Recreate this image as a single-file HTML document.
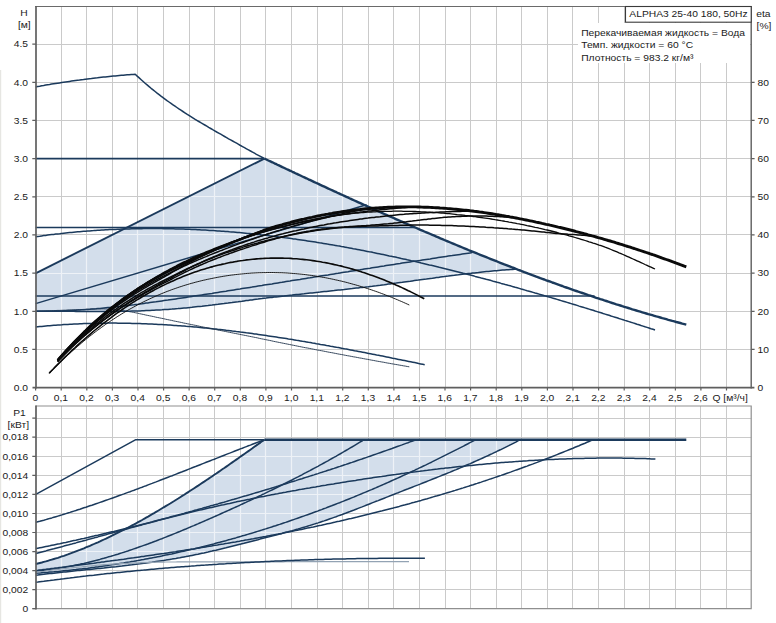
<!DOCTYPE html>
<html lang="ru">
<head>
<meta charset="utf-8">
<title>ALPHA3 25-40 180, 50Hz</title>
<style>
html,body{margin:0;padding:0;background:#ffffff;}
body{width:776px;height:623px;overflow:hidden;font-family:"Liberation Sans",sans-serif;}
svg{display:block;}
</style>
</head>
<body>
<svg width="776" height="623" viewBox="0 0 776 623" font-family="'Liberation Sans', sans-serif" font-size="10.3" fill="#1a1a1a">
<rect width="776" height="623" fill="#ffffff"/>
<line x1="0.6" y1="70" x2="0.6" y2="623" stroke="#e6e6e2" stroke-width="1.2"/>
<defs><clipPath id="cs1"><path d="M35.6,311.3 L35.6,273.3 L264.4,158.6 L266.4,159.5 L268.4,160.5 L270.4,161.4 L272.4,162.3 L274.4,163.3 L276.4,164.2 L278.4,165.2 L280.4,166.1 L282.4,167.1 L284.4,168.0 L286.4,169.0 L288.4,169.9 L290.4,170.8 L292.4,171.8 L294.4,172.7 L296.4,173.7 L298.4,174.6 L300.4,175.5 L302.4,176.5 L304.4,177.4 L306.4,178.3 L308.4,179.3 L310.4,180.2 L312.4,181.1 L314.4,182.1 L316.4,183.0 L318.4,183.9 L320.4,184.9 L322.4,185.8 L324.4,186.7 L326.4,187.6 L328.4,188.6 L330.4,189.5 L332.4,190.4 L334.4,191.3 L336.4,192.2 L338.4,193.2 L340.4,194.1 L342.4,195.0 L344.4,195.9 L346.4,196.8 L348.4,197.7 L350.4,198.7 L352.4,199.6 L354.4,200.5 L356.4,201.4 L358.4,202.3 L360.4,203.2 L362.4,204.1 L364.4,205.0 L366.4,205.9 L368.4,206.8 L370.4,207.7 L372.4,208.6 L374.4,209.5 L376.4,210.4 L378.4,211.3 L380.4,212.2 L382.4,213.1 L384.4,214.0 L386.4,214.9 L388.4,215.8 L390.4,216.6 L392.4,217.5 L394.4,218.4 L396.4,219.3 L398.4,220.2 L400.4,221.0 L402.4,221.9 L404.4,222.8 L406.4,223.7 L408.4,224.5 L410.4,225.4 L412.4,226.3 L414.4,227.2 L416.4,228.0 L418.4,228.9 L420.4,229.8 L422.4,230.6 L424.4,231.5 L426.4,232.3 L428.4,233.2 L430.4,234.0 L432.4,234.9 L434.4,235.7 L436.4,236.6 L438.4,237.4 L440.4,238.3 L442.4,239.1 L444.4,240.0 L446.4,240.8 L448.4,241.7 L450.4,242.5 L452.4,243.3 L454.4,244.2 L456.4,245.0 L458.4,245.8 L460.4,246.7 L462.4,247.5 L464.4,248.3 L466.4,249.1 L468.4,250.0 L470.4,250.8 L472.4,251.6 L474.4,252.4 L476.3,253.2 L478.3,254.0 L480.3,254.8 L482.3,255.6 L484.3,256.4 L486.3,257.2 L488.3,258.0 L490.3,258.8 L492.3,259.6 L494.3,260.4 L496.3,261.2 L498.3,262.0 L500.3,262.8 L502.3,263.6 L504.3,264.4 L506.3,265.1 L508.3,265.9 L510.3,266.7 L512.3,267.5 L514.3,268.2 L516.3,269.0 L516.5,269.1 L516.5,269.1 L514.5,269.2 L512.5,269.4 L510.5,269.5 L508.5,269.7 L506.5,269.8 L504.5,270.0 L502.5,270.1 L500.5,270.3 L498.5,270.5 L496.5,270.7 L494.5,270.8 L492.5,271.0 L490.5,271.2 L488.5,271.4 L486.5,271.6 L484.5,271.8 L482.5,272.0 L480.4,272.2 L478.4,272.5 L476.4,272.7 L474.4,272.9 L472.4,273.1 L470.4,273.4 L468.4,273.6 L466.4,273.8 L464.4,274.1 L462.4,274.3 L460.4,274.5 L458.4,274.8 L456.4,275.0 L454.4,275.3 L452.4,275.5 L450.4,275.8 L448.4,276.1 L446.4,276.3 L444.4,276.6 L442.4,276.8 L440.4,277.1 L438.4,277.4 L436.4,277.6 L434.4,277.9 L432.4,278.2 L430.4,278.4 L428.4,278.7 L426.4,279.0 L424.4,279.2 L422.4,279.5 L420.4,279.8 L418.4,280.1 L416.4,280.3 L414.4,280.6 L412.3,280.9 L410.3,281.2 L408.3,281.4 L406.3,281.7 L404.3,282.0 L402.3,282.3 L400.3,282.5 L398.3,282.8 L396.3,283.1 L394.3,283.3 L392.3,283.6 L390.3,283.9 L388.3,284.1 L386.3,284.4 L384.3,284.7 L382.3,284.9 L380.3,285.2 L378.3,285.4 L376.3,285.7 L374.3,285.9 L372.3,286.2 L370.3,286.4 L368.3,286.7 L366.3,286.9 L364.3,287.2 L362.3,287.4 L360.3,287.6 L358.3,287.9 L356.3,288.1 L354.3,288.3 L352.3,288.6 L350.3,288.8 L348.3,289.0 L346.3,289.2 L344.2,289.5 L342.2,289.7 L340.2,289.9 L338.2,290.1 L336.2,290.3 L334.2,290.6 L332.2,290.8 L330.2,291.0 L328.2,291.2 L326.2,291.4 L324.2,291.6 L322.2,291.8 L320.2,292.1 L318.2,292.3 L316.2,292.5 L314.2,292.7 L312.2,292.9 L310.2,293.1 L308.2,293.3 L306.2,293.5 L304.2,293.8 L302.2,294.0 L300.2,294.2 L298.2,294.4 L296.2,294.6 L294.2,294.8 L292.2,295.1 L290.2,295.3 L288.2,295.5 L286.2,295.7 L284.2,296.0 L282.2,296.2 L280.2,296.4 L278.2,296.7 L276.1,296.9 L274.1,297.1 L272.1,297.4 L270.1,297.6 L268.1,297.8 L266.1,298.1 L264.1,298.3 L262.1,298.6 L260.1,298.8 L258.1,299.1 L256.1,299.3 L254.1,299.6 L252.1,299.9 L250.1,300.1 L248.1,300.4 L246.1,300.6 L244.1,300.9 L242.1,301.2 L240.1,301.4 L238.1,301.7 L236.1,301.9 L234.1,302.2 L232.1,302.5 L230.1,302.7 L228.1,303.0 L226.1,303.2 L224.1,303.5 L222.1,303.7 L220.1,304.0 L218.1,304.3 L216.1,304.5 L214.1,304.7 L212.1,305.0 L210.1,305.2 L208.1,305.5 L206.0,305.7 L204.0,305.9 L202.0,306.2 L200.0,306.4 L198.0,306.6 L196.0,306.8 L194.0,307.0 L192.0,307.3 L190.0,307.5 L188.0,307.7 L186.0,307.9 L184.0,308.0 L182.0,308.2 L180.0,308.4 L178.0,308.6 L176.0,308.7 L174.0,308.9 L172.0,309.1 L170.0,309.2 L168.0,309.4 L166.0,309.5 L164.0,309.6 L162.0,309.8 L160.0,309.9 L158.0,310.0 L156.0,310.1 L154.0,310.2 L152.0,310.3 L150.0,310.4 L148.0,310.5 L146.0,310.6 L144.0,310.7 L142.0,310.8 L140.0,310.9 L137.9,310.9 L135.9,311.0 L133.9,311.1 L131.9,311.1 L129.9,311.2 L127.9,311.2 L125.9,311.3 L123.9,311.3 L121.9,311.3 L119.9,311.4 L117.9,311.4 L115.9,311.4 L113.9,311.5 L111.9,311.5 L109.9,311.5 L107.9,311.5 L105.9,311.5 L103.9,311.5 L101.9,311.5 L99.9,311.5 L97.9,311.5 L95.9,311.5 L93.9,311.5 L91.9,311.5 L89.9,311.5 L87.9,311.5 L85.9,311.4 L83.9,311.4 L81.9,311.4 L79.9,311.4 L77.9,311.4 L75.9,311.4 L73.9,311.3 L71.9,311.3 L69.8,311.3 L67.8,311.3 L65.8,311.3 L63.8,311.3 L61.8,311.3 L59.8,311.2 L57.8,311.2 L55.8,311.2 L53.8,311.2 L51.8,311.2 L49.8,311.2 L47.8,311.2 L45.8,311.2 L43.8,311.2 L41.8,311.2 L39.8,311.3 L37.8,311.3 L35.8,311.3Z"/></clipPath><clipPath id="cs2"><path d="M35.8,575.2 L35.8,564.0 L37.8,563.5 L39.8,563.0 L41.8,562.5 L43.8,561.9 L45.8,561.4 L47.8,560.8 L49.8,560.2 L51.8,559.6 L53.8,559.0 L55.9,558.4 L57.9,557.8 L59.9,557.1 L61.9,556.4 L63.9,555.8 L65.9,555.1 L67.9,554.4 L69.9,553.6 L71.9,552.9 L73.9,552.2 L75.9,551.4 L77.9,550.6 L79.9,549.9 L81.9,549.1 L83.9,548.3 L85.9,547.4 L87.9,546.6 L89.9,545.8 L91.9,544.9 L94.0,544.0 L96.0,543.1 L98.0,542.3 L100.0,541.4 L102.0,540.4 L104.0,539.5 L106.0,538.6 L108.0,537.6 L110.0,536.7 L112.0,535.7 L114.0,534.7 L116.0,533.7 L118.0,532.7 L120.0,531.7 L122.0,530.7 L124.0,529.7 L126.0,528.6 L128.0,527.6 L130.0,526.5 L132.1,525.4 L134.1,524.4 L136.1,523.3 L138.1,522.2 L140.1,521.1 L142.1,520.0 L144.1,518.8 L146.1,517.7 L148.1,516.6 L150.1,515.4 L152.1,514.2 L154.1,513.1 L156.1,511.9 L158.1,510.7 L160.1,509.5 L162.1,508.3 L164.1,507.1 L166.1,505.9 L168.1,504.7 L170.2,503.5 L172.2,502.2 L174.2,501.0 L176.2,499.7 L178.2,498.5 L180.2,497.2 L182.2,495.9 L184.2,494.7 L186.2,493.4 L188.2,492.1 L190.2,490.8 L192.2,489.5 L194.2,488.2 L196.2,486.9 L198.2,485.6 L200.2,484.2 L202.2,482.9 L204.2,481.6 L206.2,480.2 L208.3,478.9 L210.3,477.5 L212.3,476.2 L214.3,474.8 L216.3,473.5 L218.3,472.1 L220.3,470.7 L222.3,469.3 L224.3,468.0 L226.3,466.6 L228.3,465.2 L230.3,463.8 L232.3,462.4 L234.3,461.0 L236.3,459.6 L238.3,458.2 L240.3,456.8 L242.3,455.4 L244.3,454.0 L246.4,452.5 L248.4,451.1 L250.4,449.7 L252.4,448.3 L254.4,446.8 L256.4,445.4 L258.4,444.0 L260.4,442.6 L262.4,441.1 L264.4,439.7 L520.3,439.7 L520.3,439.7 L518.3,440.7 L516.3,441.8 L514.3,442.8 L512.3,443.8 L510.3,444.8 L508.3,445.8 L506.3,446.8 L504.3,447.8 L502.3,448.8 L500.3,449.8 L498.3,450.7 L496.3,451.7 L494.3,452.6 L492.3,453.6 L490.3,454.5 L488.3,455.5 L486.3,456.4 L484.3,457.3 L482.3,458.2 L480.3,459.1 L478.3,460.0 L476.3,460.9 L474.3,461.8 L472.3,462.7 L470.2,463.6 L468.2,464.4 L466.2,465.3 L464.2,466.2 L462.2,467.0 L460.2,467.9 L458.2,468.7 L456.2,469.6 L454.2,470.4 L452.2,471.2 L450.2,472.1 L448.2,472.9 L446.2,473.7 L444.2,474.5 L442.2,475.3 L440.2,476.1 L438.2,476.9 L436.2,477.7 L434.2,478.5 L432.2,479.3 L430.2,480.1 L428.2,480.9 L426.2,481.7 L424.2,482.5 L422.2,483.3 L420.2,484.1 L418.2,484.9 L416.2,485.6 L414.2,486.4 L412.2,487.2 L410.2,488.0 L408.2,488.8 L406.2,489.5 L404.2,490.3 L402.2,491.1 L400.2,491.9 L398.2,492.7 L396.2,493.4 L394.2,494.2 L392.2,495.0 L390.2,495.8 L388.2,496.6 L386.2,497.4 L384.2,498.2 L382.2,499.0 L380.2,499.8 L378.2,500.6 L376.2,501.3 L374.1,502.1 L372.1,502.9 L370.1,503.7 L368.1,504.5 L366.1,505.3 L364.1,506.1 L362.1,506.9 L360.1,507.6 L358.1,508.4 L356.1,509.2 L354.1,510.0 L352.1,510.7 L350.1,511.5 L348.1,512.2 L346.1,513.0 L344.1,513.7 L342.1,514.5 L340.1,515.2 L338.1,515.9 L336.1,516.7 L334.1,517.4 L332.1,518.1 L330.1,518.8 L328.1,519.5 L326.1,520.2 L324.1,520.9 L322.1,521.5 L320.1,522.2 L318.1,522.9 L316.1,523.5 L314.1,524.1 L312.1,524.8 L310.1,525.4 L308.1,526.0 L306.1,526.6 L304.1,527.2 L302.1,527.8 L300.1,528.4 L298.1,529.0 L296.1,529.5 L294.1,530.1 L292.1,530.7 L290.1,531.2 L288.1,531.8 L286.1,532.3 L284.1,532.8 L282.1,533.4 L280.1,533.9 L278.1,534.5 L276.0,535.0 L274.0,535.5 L272.0,536.0 L270.0,536.5 L268.0,537.1 L266.0,537.6 L264.0,538.1 L262.0,538.6 L260.0,539.1 L258.0,539.7 L256.0,540.2 L254.0,540.7 L252.0,541.2 L250.0,541.7 L248.0,542.2 L246.0,542.7 L244.0,543.3 L242.0,543.8 L240.0,544.3 L238.0,544.8 L236.0,545.3 L234.0,545.8 L232.0,546.3 L230.0,546.8 L228.0,547.3 L226.0,547.8 L224.0,548.2 L222.0,548.7 L220.0,549.2 L218.0,549.7 L216.0,550.2 L214.0,550.6 L212.0,551.1 L210.0,551.5 L208.0,552.0 L206.0,552.4 L204.0,552.9 L202.0,553.3 L200.0,553.7 L198.0,554.2 L196.0,554.6 L194.0,555.0 L192.0,555.4 L190.0,555.8 L188.0,556.2 L186.0,556.6 L184.0,556.9 L182.0,557.3 L179.9,557.7 L177.9,558.0 L175.9,558.4 L173.9,558.7 L171.9,559.1 L169.9,559.4 L167.9,559.7 L165.9,560.1 L163.9,560.4 L161.9,560.7 L159.9,561.0 L157.9,561.3 L155.9,561.6 L153.9,561.9 L151.9,562.2 L149.9,562.4 L147.9,562.7 L145.9,563.0 L143.9,563.3 L141.9,563.5 L139.9,563.8 L137.9,564.0 L135.9,564.3 L133.9,564.5 L131.9,564.8 L129.9,565.0 L127.9,565.3 L125.9,565.5 L123.9,565.7 L121.9,566.0 L119.9,566.2 L117.9,566.4 L115.9,566.7 L113.9,566.9 L111.9,567.1 L109.9,567.3 L107.9,567.5 L105.9,567.7 L103.9,568.0 L101.9,568.2 L99.9,568.4 L97.9,568.6 L95.9,568.8 L93.9,569.0 L91.9,569.2 L89.9,569.4 L87.9,569.6 L85.9,569.8 L83.8,570.0 L81.8,570.2 L79.8,570.4 L77.8,570.6 L75.8,570.8 L73.8,571.0 L71.8,571.3 L69.8,571.5 L67.8,571.7 L65.8,571.9 L63.8,572.1 L61.8,572.3 L59.8,572.5 L57.8,572.7 L55.8,572.9 L53.8,573.2 L51.8,573.4 L49.8,573.6 L47.8,573.8 L45.8,574.0 L43.8,574.3 L41.8,574.5 L39.8,574.7 L37.8,575.0 L35.8,575.2Z"/></clipPath></defs>
<path d="M61.5,6.5 V387.6 M61.5,406.0 V608.7 M86.5,6.5 V387.6 M86.5,406.0 V608.7 M112.5,6.5 V387.6 M112.5,406.0 V608.7 M137.5,6.5 V387.6 M137.5,406.0 V608.7 M163.5,6.5 V387.6 M163.5,406.0 V608.7 M189.5,6.5 V387.6 M189.5,406.0 V608.7 M214.5,6.5 V387.6 M214.5,406.0 V608.7 M240.5,6.5 V387.6 M240.5,406.0 V608.7 M265.5,6.5 V387.6 M265.5,406.0 V608.7 M291.5,6.5 V387.6 M291.5,406.0 V608.7 M317.5,6.5 V387.6 M317.5,406.0 V608.7 M342.5,6.5 V387.6 M342.5,406.0 V608.7 M368.5,6.5 V387.6 M368.5,406.0 V608.7 M393.5,6.5 V387.6 M393.5,406.0 V608.7 M419.5,6.5 V387.6 M419.5,406.0 V608.7 M445.5,6.5 V387.6 M445.5,406.0 V608.7 M470.5,6.5 V387.6 M470.5,406.0 V608.7 M496.5,6.5 V387.6 M496.5,406.0 V608.7 M521.5,6.5 V387.6 M521.5,406.0 V608.7 M547.5,6.5 V387.6 M547.5,406.0 V608.7 M572.5,6.5 V387.6 M572.5,406.0 V608.7 M598.5,6.5 V387.6 M598.5,406.0 V608.7 M624.5,6.5 V387.6 M624.5,406.0 V608.7 M649.5,6.5 V387.6 M649.5,406.0 V608.7 M675.5,6.5 V387.6 M675.5,406.0 V608.7 M700.5,6.5 V387.6 M700.5,406.0 V608.7 M726.5,6.5 V387.6 M726.5,406.0 V608.7 M35.6,349.5 H751.2 M35.6,311.5 H751.2 M35.6,273.5 H751.2 M35.6,234.5 H751.2 M35.6,196.5 H751.2 M35.6,158.5 H751.2 M35.6,120.5 H751.2 M35.6,82.5 H751.2 M35.6,44.5 H751.2 M35.6,589.5 H751.2 M35.6,570.5 H751.2 M35.6,551.5 H751.2 M35.6,532.5 H751.2 M35.6,513.5 H751.2 M35.6,494.5 H751.2 M35.6,475.5 H751.2 M35.6,456.5 H751.2 M35.6,437.5 H751.2 M35.6,418.5 H751.2" stroke="#cacaca" stroke-width="1" fill="none"/>
<path d="M36.4,311.5 H651" stroke="#ffffff" stroke-width="2" fill="none"/>
<path d="M61.5,309.7 V312.9 M86.5,309.7 V312.9 M112.5,309.7 V312.9 M137.5,309.7 V312.9 M163.5,309.7 V312.9 M189.5,309.7 V312.9 M214.5,309.7 V312.9 M240.5,309.7 V312.9 M265.5,309.7 V312.9 M291.5,309.7 V312.9 M317.5,309.7 V312.9 M342.5,309.7 V312.9 M368.5,309.7 V312.9 M393.5,309.7 V312.9 M419.5,309.7 V312.9 M445.5,309.7 V312.9 M470.5,309.7 V312.9 M496.5,309.7 V312.9 M521.5,309.7 V312.9 M547.5,309.7 V312.9 M572.5,309.7 V312.9 M598.5,309.7 V312.9 M624.5,309.7 V312.9 M649.5,309.7 V312.9" stroke="#cacaca" stroke-width="1" fill="none"/>
<path d="M35.6,311.3 L35.6,273.3 L264.4,158.6 L266.4,159.5 L268.4,160.5 L270.4,161.4 L272.4,162.3 L274.4,163.3 L276.4,164.2 L278.4,165.2 L280.4,166.1 L282.4,167.1 L284.4,168.0 L286.4,169.0 L288.4,169.9 L290.4,170.8 L292.4,171.8 L294.4,172.7 L296.4,173.7 L298.4,174.6 L300.4,175.5 L302.4,176.5 L304.4,177.4 L306.4,178.3 L308.4,179.3 L310.4,180.2 L312.4,181.1 L314.4,182.1 L316.4,183.0 L318.4,183.9 L320.4,184.9 L322.4,185.8 L324.4,186.7 L326.4,187.6 L328.4,188.6 L330.4,189.5 L332.4,190.4 L334.4,191.3 L336.4,192.2 L338.4,193.2 L340.4,194.1 L342.4,195.0 L344.4,195.9 L346.4,196.8 L348.4,197.7 L350.4,198.7 L352.4,199.6 L354.4,200.5 L356.4,201.4 L358.4,202.3 L360.4,203.2 L362.4,204.1 L364.4,205.0 L366.4,205.9 L368.4,206.8 L370.4,207.7 L372.4,208.6 L374.4,209.5 L376.4,210.4 L378.4,211.3 L380.4,212.2 L382.4,213.1 L384.4,214.0 L386.4,214.9 L388.4,215.8 L390.4,216.6 L392.4,217.5 L394.4,218.4 L396.4,219.3 L398.4,220.2 L400.4,221.0 L402.4,221.9 L404.4,222.8 L406.4,223.7 L408.4,224.5 L410.4,225.4 L412.4,226.3 L414.4,227.2 L416.4,228.0 L418.4,228.9 L420.4,229.8 L422.4,230.6 L424.4,231.5 L426.4,232.3 L428.4,233.2 L430.4,234.0 L432.4,234.9 L434.4,235.7 L436.4,236.6 L438.4,237.4 L440.4,238.3 L442.4,239.1 L444.4,240.0 L446.4,240.8 L448.4,241.7 L450.4,242.5 L452.4,243.3 L454.4,244.2 L456.4,245.0 L458.4,245.8 L460.4,246.7 L462.4,247.5 L464.4,248.3 L466.4,249.1 L468.4,250.0 L470.4,250.8 L472.4,251.6 L474.4,252.4 L476.3,253.2 L478.3,254.0 L480.3,254.8 L482.3,255.6 L484.3,256.4 L486.3,257.2 L488.3,258.0 L490.3,258.8 L492.3,259.6 L494.3,260.4 L496.3,261.2 L498.3,262.0 L500.3,262.8 L502.3,263.6 L504.3,264.4 L506.3,265.1 L508.3,265.9 L510.3,266.7 L512.3,267.5 L514.3,268.2 L516.3,269.0 L516.5,269.1 L516.5,269.1 L514.5,269.2 L512.5,269.4 L510.5,269.5 L508.5,269.7 L506.5,269.8 L504.5,270.0 L502.5,270.1 L500.5,270.3 L498.5,270.5 L496.5,270.7 L494.5,270.8 L492.5,271.0 L490.5,271.2 L488.5,271.4 L486.5,271.6 L484.5,271.8 L482.5,272.0 L480.4,272.2 L478.4,272.5 L476.4,272.7 L474.4,272.9 L472.4,273.1 L470.4,273.4 L468.4,273.6 L466.4,273.8 L464.4,274.1 L462.4,274.3 L460.4,274.5 L458.4,274.8 L456.4,275.0 L454.4,275.3 L452.4,275.5 L450.4,275.8 L448.4,276.1 L446.4,276.3 L444.4,276.6 L442.4,276.8 L440.4,277.1 L438.4,277.4 L436.4,277.6 L434.4,277.9 L432.4,278.2 L430.4,278.4 L428.4,278.7 L426.4,279.0 L424.4,279.2 L422.4,279.5 L420.4,279.8 L418.4,280.1 L416.4,280.3 L414.4,280.6 L412.3,280.9 L410.3,281.2 L408.3,281.4 L406.3,281.7 L404.3,282.0 L402.3,282.3 L400.3,282.5 L398.3,282.8 L396.3,283.1 L394.3,283.3 L392.3,283.6 L390.3,283.9 L388.3,284.1 L386.3,284.4 L384.3,284.7 L382.3,284.9 L380.3,285.2 L378.3,285.4 L376.3,285.7 L374.3,285.9 L372.3,286.2 L370.3,286.4 L368.3,286.7 L366.3,286.9 L364.3,287.2 L362.3,287.4 L360.3,287.6 L358.3,287.9 L356.3,288.1 L354.3,288.3 L352.3,288.6 L350.3,288.8 L348.3,289.0 L346.3,289.2 L344.2,289.5 L342.2,289.7 L340.2,289.9 L338.2,290.1 L336.2,290.3 L334.2,290.6 L332.2,290.8 L330.2,291.0 L328.2,291.2 L326.2,291.4 L324.2,291.6 L322.2,291.8 L320.2,292.1 L318.2,292.3 L316.2,292.5 L314.2,292.7 L312.2,292.9 L310.2,293.1 L308.2,293.3 L306.2,293.5 L304.2,293.8 L302.2,294.0 L300.2,294.2 L298.2,294.4 L296.2,294.6 L294.2,294.8 L292.2,295.1 L290.2,295.3 L288.2,295.5 L286.2,295.7 L284.2,296.0 L282.2,296.2 L280.2,296.4 L278.2,296.7 L276.1,296.9 L274.1,297.1 L272.1,297.4 L270.1,297.6 L268.1,297.8 L266.1,298.1 L264.1,298.3 L262.1,298.6 L260.1,298.8 L258.1,299.1 L256.1,299.3 L254.1,299.6 L252.1,299.9 L250.1,300.1 L248.1,300.4 L246.1,300.6 L244.1,300.9 L242.1,301.2 L240.1,301.4 L238.1,301.7 L236.1,301.9 L234.1,302.2 L232.1,302.5 L230.1,302.7 L228.1,303.0 L226.1,303.2 L224.1,303.5 L222.1,303.7 L220.1,304.0 L218.1,304.3 L216.1,304.5 L214.1,304.7 L212.1,305.0 L210.1,305.2 L208.1,305.5 L206.0,305.7 L204.0,305.9 L202.0,306.2 L200.0,306.4 L198.0,306.6 L196.0,306.8 L194.0,307.0 L192.0,307.3 L190.0,307.5 L188.0,307.7 L186.0,307.9 L184.0,308.0 L182.0,308.2 L180.0,308.4 L178.0,308.6 L176.0,308.7 L174.0,308.9 L172.0,309.1 L170.0,309.2 L168.0,309.4 L166.0,309.5 L164.0,309.6 L162.0,309.8 L160.0,309.9 L158.0,310.0 L156.0,310.1 L154.0,310.2 L152.0,310.3 L150.0,310.4 L148.0,310.5 L146.0,310.6 L144.0,310.7 L142.0,310.8 L140.0,310.9 L137.9,310.9 L135.9,311.0 L133.9,311.1 L131.9,311.1 L129.9,311.2 L127.9,311.2 L125.9,311.3 L123.9,311.3 L121.9,311.3 L119.9,311.4 L117.9,311.4 L115.9,311.4 L113.9,311.5 L111.9,311.5 L109.9,311.5 L107.9,311.5 L105.9,311.5 L103.9,311.5 L101.9,311.5 L99.9,311.5 L97.9,311.5 L95.9,311.5 L93.9,311.5 L91.9,311.5 L89.9,311.5 L87.9,311.5 L85.9,311.4 L83.9,311.4 L81.9,311.4 L79.9,311.4 L77.9,311.4 L75.9,311.4 L73.9,311.3 L71.9,311.3 L69.8,311.3 L67.8,311.3 L65.8,311.3 L63.8,311.3 L61.8,311.3 L59.8,311.2 L57.8,311.2 L55.8,311.2 L53.8,311.2 L51.8,311.2 L49.8,311.2 L47.8,311.2 L45.8,311.2 L43.8,311.2 L41.8,311.2 L39.8,311.3 L37.8,311.3 L35.8,311.3Z" fill="#d3deeb"/>
<path d="M35.8,575.2 L35.8,564.0 L37.8,563.5 L39.8,563.0 L41.8,562.5 L43.8,561.9 L45.8,561.4 L47.8,560.8 L49.8,560.2 L51.8,559.6 L53.8,559.0 L55.9,558.4 L57.9,557.8 L59.9,557.1 L61.9,556.4 L63.9,555.8 L65.9,555.1 L67.9,554.4 L69.9,553.6 L71.9,552.9 L73.9,552.2 L75.9,551.4 L77.9,550.6 L79.9,549.9 L81.9,549.1 L83.9,548.3 L85.9,547.4 L87.9,546.6 L89.9,545.8 L91.9,544.9 L94.0,544.0 L96.0,543.1 L98.0,542.3 L100.0,541.4 L102.0,540.4 L104.0,539.5 L106.0,538.6 L108.0,537.6 L110.0,536.7 L112.0,535.7 L114.0,534.7 L116.0,533.7 L118.0,532.7 L120.0,531.7 L122.0,530.7 L124.0,529.7 L126.0,528.6 L128.0,527.6 L130.0,526.5 L132.1,525.4 L134.1,524.4 L136.1,523.3 L138.1,522.2 L140.1,521.1 L142.1,520.0 L144.1,518.8 L146.1,517.7 L148.1,516.6 L150.1,515.4 L152.1,514.2 L154.1,513.1 L156.1,511.9 L158.1,510.7 L160.1,509.5 L162.1,508.3 L164.1,507.1 L166.1,505.9 L168.1,504.7 L170.2,503.5 L172.2,502.2 L174.2,501.0 L176.2,499.7 L178.2,498.5 L180.2,497.2 L182.2,495.9 L184.2,494.7 L186.2,493.4 L188.2,492.1 L190.2,490.8 L192.2,489.5 L194.2,488.2 L196.2,486.9 L198.2,485.6 L200.2,484.2 L202.2,482.9 L204.2,481.6 L206.2,480.2 L208.3,478.9 L210.3,477.5 L212.3,476.2 L214.3,474.8 L216.3,473.5 L218.3,472.1 L220.3,470.7 L222.3,469.3 L224.3,468.0 L226.3,466.6 L228.3,465.2 L230.3,463.8 L232.3,462.4 L234.3,461.0 L236.3,459.6 L238.3,458.2 L240.3,456.8 L242.3,455.4 L244.3,454.0 L246.4,452.5 L248.4,451.1 L250.4,449.7 L252.4,448.3 L254.4,446.8 L256.4,445.4 L258.4,444.0 L260.4,442.6 L262.4,441.1 L264.4,439.7 L520.3,439.7 L520.3,439.7 L518.3,440.7 L516.3,441.8 L514.3,442.8 L512.3,443.8 L510.3,444.8 L508.3,445.8 L506.3,446.8 L504.3,447.8 L502.3,448.8 L500.3,449.8 L498.3,450.7 L496.3,451.7 L494.3,452.6 L492.3,453.6 L490.3,454.5 L488.3,455.5 L486.3,456.4 L484.3,457.3 L482.3,458.2 L480.3,459.1 L478.3,460.0 L476.3,460.9 L474.3,461.8 L472.3,462.7 L470.2,463.6 L468.2,464.4 L466.2,465.3 L464.2,466.2 L462.2,467.0 L460.2,467.9 L458.2,468.7 L456.2,469.6 L454.2,470.4 L452.2,471.2 L450.2,472.1 L448.2,472.9 L446.2,473.7 L444.2,474.5 L442.2,475.3 L440.2,476.1 L438.2,476.9 L436.2,477.7 L434.2,478.5 L432.2,479.3 L430.2,480.1 L428.2,480.9 L426.2,481.7 L424.2,482.5 L422.2,483.3 L420.2,484.1 L418.2,484.9 L416.2,485.6 L414.2,486.4 L412.2,487.2 L410.2,488.0 L408.2,488.8 L406.2,489.5 L404.2,490.3 L402.2,491.1 L400.2,491.9 L398.2,492.7 L396.2,493.4 L394.2,494.2 L392.2,495.0 L390.2,495.8 L388.2,496.6 L386.2,497.4 L384.2,498.2 L382.2,499.0 L380.2,499.8 L378.2,500.6 L376.2,501.3 L374.1,502.1 L372.1,502.9 L370.1,503.7 L368.1,504.5 L366.1,505.3 L364.1,506.1 L362.1,506.9 L360.1,507.6 L358.1,508.4 L356.1,509.2 L354.1,510.0 L352.1,510.7 L350.1,511.5 L348.1,512.2 L346.1,513.0 L344.1,513.7 L342.1,514.5 L340.1,515.2 L338.1,515.9 L336.1,516.7 L334.1,517.4 L332.1,518.1 L330.1,518.8 L328.1,519.5 L326.1,520.2 L324.1,520.9 L322.1,521.5 L320.1,522.2 L318.1,522.9 L316.1,523.5 L314.1,524.1 L312.1,524.8 L310.1,525.4 L308.1,526.0 L306.1,526.6 L304.1,527.2 L302.1,527.8 L300.1,528.4 L298.1,529.0 L296.1,529.5 L294.1,530.1 L292.1,530.7 L290.1,531.2 L288.1,531.8 L286.1,532.3 L284.1,532.8 L282.1,533.4 L280.1,533.9 L278.1,534.5 L276.0,535.0 L274.0,535.5 L272.0,536.0 L270.0,536.5 L268.0,537.1 L266.0,537.6 L264.0,538.1 L262.0,538.6 L260.0,539.1 L258.0,539.7 L256.0,540.2 L254.0,540.7 L252.0,541.2 L250.0,541.7 L248.0,542.2 L246.0,542.7 L244.0,543.3 L242.0,543.8 L240.0,544.3 L238.0,544.8 L236.0,545.3 L234.0,545.8 L232.0,546.3 L230.0,546.8 L228.0,547.3 L226.0,547.8 L224.0,548.2 L222.0,548.7 L220.0,549.2 L218.0,549.7 L216.0,550.2 L214.0,550.6 L212.0,551.1 L210.0,551.5 L208.0,552.0 L206.0,552.4 L204.0,552.9 L202.0,553.3 L200.0,553.7 L198.0,554.2 L196.0,554.6 L194.0,555.0 L192.0,555.4 L190.0,555.8 L188.0,556.2 L186.0,556.6 L184.0,556.9 L182.0,557.3 L179.9,557.7 L177.9,558.0 L175.9,558.4 L173.9,558.7 L171.9,559.1 L169.9,559.4 L167.9,559.7 L165.9,560.1 L163.9,560.4 L161.9,560.7 L159.9,561.0 L157.9,561.3 L155.9,561.6 L153.9,561.9 L151.9,562.2 L149.9,562.4 L147.9,562.7 L145.9,563.0 L143.9,563.3 L141.9,563.5 L139.9,563.8 L137.9,564.0 L135.9,564.3 L133.9,564.5 L131.9,564.8 L129.9,565.0 L127.9,565.3 L125.9,565.5 L123.9,565.7 L121.9,566.0 L119.9,566.2 L117.9,566.4 L115.9,566.7 L113.9,566.9 L111.9,567.1 L109.9,567.3 L107.9,567.5 L105.9,567.7 L103.9,568.0 L101.9,568.2 L99.9,568.4 L97.9,568.6 L95.9,568.8 L93.9,569.0 L91.9,569.2 L89.9,569.4 L87.9,569.6 L85.9,569.8 L83.8,570.0 L81.8,570.2 L79.8,570.4 L77.8,570.6 L75.8,570.8 L73.8,571.0 L71.8,571.3 L69.8,571.5 L67.8,571.7 L65.8,571.9 L63.8,572.1 L61.8,572.3 L59.8,572.5 L57.8,572.7 L55.8,572.9 L53.8,573.2 L51.8,573.4 L49.8,573.6 L47.8,573.8 L45.8,574.0 L43.8,574.3 L41.8,574.5 L39.8,574.7 L37.8,575.0 L35.8,575.2Z" fill="#d3deeb"/>
<path d="M61.5,6.5 V387.6 M61.5,406.0 V608.7 M86.5,6.5 V387.6 M86.5,406.0 V608.7 M112.5,6.5 V387.6 M112.5,406.0 V608.7 M137.5,6.5 V387.6 M137.5,406.0 V608.7 M163.5,6.5 V387.6 M163.5,406.0 V608.7 M189.5,6.5 V387.6 M189.5,406.0 V608.7 M214.5,6.5 V387.6 M214.5,406.0 V608.7 M240.5,6.5 V387.6 M240.5,406.0 V608.7 M265.5,6.5 V387.6 M265.5,406.0 V608.7 M291.5,6.5 V387.6 M291.5,406.0 V608.7 M317.5,6.5 V387.6 M317.5,406.0 V608.7 M342.5,6.5 V387.6 M342.5,406.0 V608.7 M368.5,6.5 V387.6 M368.5,406.0 V608.7 M393.5,6.5 V387.6 M393.5,406.0 V608.7 M419.5,6.5 V387.6 M419.5,406.0 V608.7 M445.5,6.5 V387.6 M445.5,406.0 V608.7 M470.5,6.5 V387.6 M470.5,406.0 V608.7 M496.5,6.5 V387.6 M496.5,406.0 V608.7 M521.5,6.5 V387.6 M521.5,406.0 V608.7 M547.5,6.5 V387.6 M547.5,406.0 V608.7 M572.5,6.5 V387.6 M572.5,406.0 V608.7 M598.5,6.5 V387.6 M598.5,406.0 V608.7 M624.5,6.5 V387.6 M624.5,406.0 V608.7 M649.5,6.5 V387.6 M649.5,406.0 V608.7 M675.5,6.5 V387.6 M675.5,406.0 V608.7 M700.5,6.5 V387.6 M700.5,406.0 V608.7 M726.5,6.5 V387.6 M726.5,406.0 V608.7 M35.6,349.5 H751.2 M35.6,311.5 H751.2 M35.6,273.5 H751.2 M35.6,234.5 H751.2 M35.6,196.5 H751.2 M35.6,158.5 H751.2 M35.6,120.5 H751.2 M35.6,82.5 H751.2 M35.6,44.5 H751.2 M35.6,589.5 H751.2 M35.6,570.5 H751.2 M35.6,551.5 H751.2 M35.6,532.5 H751.2 M35.6,513.5 H751.2 M35.6,494.5 H751.2 M35.6,475.5 H751.2 M35.6,456.5 H751.2 M35.6,437.5 H751.2 M35.6,418.5 H751.2" stroke="#eef2f7" stroke-width="1.2" fill="none" clip-path="url(#cs1)"/>
<path d="M61.5,6.5 V387.6 M61.5,406.0 V608.7 M86.5,6.5 V387.6 M86.5,406.0 V608.7 M112.5,6.5 V387.6 M112.5,406.0 V608.7 M137.5,6.5 V387.6 M137.5,406.0 V608.7 M163.5,6.5 V387.6 M163.5,406.0 V608.7 M189.5,6.5 V387.6 M189.5,406.0 V608.7 M214.5,6.5 V387.6 M214.5,406.0 V608.7 M240.5,6.5 V387.6 M240.5,406.0 V608.7 M265.5,6.5 V387.6 M265.5,406.0 V608.7 M291.5,6.5 V387.6 M291.5,406.0 V608.7 M317.5,6.5 V387.6 M317.5,406.0 V608.7 M342.5,6.5 V387.6 M342.5,406.0 V608.7 M368.5,6.5 V387.6 M368.5,406.0 V608.7 M393.5,6.5 V387.6 M393.5,406.0 V608.7 M419.5,6.5 V387.6 M419.5,406.0 V608.7 M445.5,6.5 V387.6 M445.5,406.0 V608.7 M470.5,6.5 V387.6 M470.5,406.0 V608.7 M496.5,6.5 V387.6 M496.5,406.0 V608.7 M521.5,6.5 V387.6 M521.5,406.0 V608.7 M547.5,6.5 V387.6 M547.5,406.0 V608.7 M572.5,6.5 V387.6 M572.5,406.0 V608.7 M598.5,6.5 V387.6 M598.5,406.0 V608.7 M624.5,6.5 V387.6 M624.5,406.0 V608.7 M649.5,6.5 V387.6 M649.5,406.0 V608.7 M675.5,6.5 V387.6 M675.5,406.0 V608.7 M700.5,6.5 V387.6 M700.5,406.0 V608.7 M726.5,6.5 V387.6 M726.5,406.0 V608.7 M35.6,349.5 H751.2 M35.6,311.5 H751.2 M35.6,273.5 H751.2 M35.6,234.5 H751.2 M35.6,196.5 H751.2 M35.6,158.5 H751.2 M35.6,120.5 H751.2 M35.6,82.5 H751.2 M35.6,44.5 H751.2 M35.6,589.5 H751.2 M35.6,570.5 H751.2 M35.6,551.5 H751.2 M35.6,532.5 H751.2 M35.6,513.5 H751.2 M35.6,494.5 H751.2 M35.6,475.5 H751.2 M35.6,456.5 H751.2 M35.6,437.5 H751.2 M35.6,418.5 H751.2" stroke="#eef2f7" stroke-width="1.2" fill="none" clip-path="url(#cs2)"/>
<rect x="578" y="23" width="172" height="40" fill="#ffffff"/>
<path d="M35.7,86.9 L37.7,86.5 L39.7,86.2 L41.7,85.8 L43.7,85.5 L45.7,85.1 L47.6,84.8 L49.6,84.5 L51.6,84.1 L53.6,83.8 L55.6,83.5 L57.6,83.2 L59.6,82.9 L61.6,82.6 L63.6,82.3 L65.5,82.0 L67.5,81.7 L69.5,81.4 L71.5,81.1 L73.5,80.8 L75.5,80.5 L77.5,80.2 L79.5,80.0 L81.5,79.7 L83.5,79.5 L85.4,79.2 L87.4,78.9 L89.4,78.7 L91.4,78.5 L93.4,78.2 L95.4,78.0 L97.4,77.8 L99.4,77.5 L101.4,77.3 L103.4,77.1 L105.3,76.9 L107.3,76.7 L109.3,76.5 L111.3,76.3 L113.3,76.1 L115.3,75.9 L117.3,75.7 L119.3,75.5 L121.3,75.3 L123.3,75.2 L125.2,75.0 L127.2,74.8 L129.2,74.7 L131.2,74.5 L133.2,74.4 L135.2,74.2 L137.2,76.1 L139.2,77.9 L141.2,79.7 L143.2,81.5 L145.1,83.2 L147.1,84.9 L149.1,86.6 L151.1,88.3 L153.1,89.9 L155.1,91.5 L157.1,93.1 L159.1,94.6 L161.0,96.1 L163.0,97.6 L165.0,99.1 L167.0,100.6 L169.0,102.0 L171.0,103.4 L173.0,104.8 L175.0,106.2 L176.9,107.5 L178.9,108.9 L180.9,110.2 L182.9,111.5 L184.9,112.8 L186.9,114.1 L188.9,115.3 L190.9,116.6 L192.8,117.8 L194.8,119.1 L196.8,120.3 L198.8,121.5 L200.8,122.7 L202.8,123.8 L204.8,125.0 L206.8,126.2 L208.7,127.4 L210.7,128.5 L212.7,129.7 L214.7,130.8 L216.7,132.0 L218.7,133.1 L220.7,134.2 L222.7,135.4 L224.6,136.5 L226.6,137.6 L228.6,138.8 L230.6,139.9 L232.6,141.0 L234.6,142.1 L236.6,143.2 L238.6,144.3 L240.5,145.5 L242.5,146.6 L244.5,147.7 L246.5,148.8 L248.5,149.9 L250.5,151.0 L252.5,152.1 L254.5,153.2 L256.4,154.3 L258.4,155.3 L260.4,156.4 L262.4,157.5 L264.4,158.6" fill="none" stroke="#1b3a5c" stroke-width="1.5" stroke-linejoin="round" stroke-linecap="butt" />
<path d="M264.4,158.6 L266.4,159.5 L268.4,160.5 L270.4,161.4 L272.4,162.3 L274.4,163.3 L276.4,164.2 L278.4,165.2 L280.4,166.1 L282.4,167.1 L284.4,168.0 L286.4,169.0 L288.4,169.9 L290.4,170.8 L292.4,171.8 L294.4,172.7 L296.4,173.7 L298.4,174.6 L300.4,175.5 L302.4,176.5 L304.4,177.4 L306.4,178.3 L308.4,179.3 L310.4,180.2 L312.4,181.1 L314.4,182.1 L316.4,183.0 L318.4,183.9 L320.4,184.9 L322.4,185.8 L324.4,186.7 L326.4,187.6 L328.4,188.6 L330.4,189.5 L332.4,190.4 L334.4,191.3 L336.4,192.2 L338.4,193.2 L340.4,194.1 L342.4,195.0 L344.4,195.9 L346.4,196.8 L348.4,197.7 L350.4,198.7 L352.4,199.6 L354.4,200.5 L356.4,201.4 L358.4,202.3 L360.4,203.2 L362.4,204.1 L364.4,205.0 L366.4,205.9 L368.4,206.8 L370.4,207.7 L372.4,208.6 L374.4,209.5 L376.4,210.4 L378.4,211.3 L380.4,212.2 L382.4,213.1 L384.4,214.0 L386.4,214.9 L388.4,215.8 L390.4,216.6 L392.4,217.5 L394.4,218.4 L396.4,219.3 L398.4,220.2 L400.4,221.0 L402.4,221.9 L404.4,222.8 L406.4,223.7 L408.4,224.5 L410.4,225.4 L412.4,226.3 L414.4,227.2 L416.4,228.0 L418.4,228.9 L420.4,229.8 L422.4,230.6 L424.4,231.5 L426.4,232.3 L428.4,233.2 L430.4,234.0 L432.4,234.9 L434.4,235.7 L436.4,236.6 L438.4,237.4 L440.4,238.3 L442.4,239.1 L444.4,240.0 L446.4,240.8 L448.4,241.7 L450.4,242.5 L452.4,243.3 L454.4,244.2 L456.4,245.0 L458.4,245.8 L460.4,246.7 L462.4,247.5 L464.4,248.3 L466.4,249.1 L468.4,250.0 L470.4,250.8 L472.4,251.6 L474.4,252.4 L476.3,253.2 L478.3,254.0 L480.3,254.8 L482.3,255.6 L484.3,256.4 L486.3,257.2 L488.3,258.0 L490.3,258.8 L492.3,259.6 L494.3,260.4 L496.3,261.2 L498.3,262.0 L500.3,262.8 L502.3,263.6 L504.3,264.4 L506.3,265.1 L508.3,265.9 L510.3,266.7 L512.3,267.5 L514.3,268.2 L516.3,269.0 L518.3,269.8 L520.3,270.5 L522.3,271.3 L524.3,272.1 L526.3,272.8 L528.3,273.6 L530.3,274.3 L532.3,275.1 L534.3,275.8 L536.3,276.6 L538.3,277.3 L540.3,278.1 L542.3,278.8 L544.3,279.5 L546.3,280.3 L548.3,281.0 L550.3,281.7 L552.3,282.5 L554.3,283.2 L556.3,283.9 L558.3,284.6 L560.3,285.3 L562.3,286.0 L564.3,286.8 L566.3,287.5 L568.3,288.2 L570.3,288.9 L572.3,289.6 L574.3,290.3 L576.3,291.0 L578.3,291.7 L580.3,292.3 L582.3,293.0 L584.3,293.7 L586.3,294.4 L588.3,295.1 L590.3,295.7 L592.3,296.4 L594.3,297.1 L596.3,297.8 L598.3,298.4 L600.3,299.1 L602.3,299.7 L604.3,300.4 L606.3,301.0 L608.3,301.7 L610.3,302.3 L612.3,303.0 L614.3,303.6 L616.3,304.3 L618.3,304.9 L620.3,305.5 L622.3,306.2 L624.3,306.8 L626.3,307.4 L628.3,308.0 L630.3,308.6 L632.3,309.3 L634.3,309.9 L636.3,310.5 L638.3,311.1 L640.3,311.7 L642.3,312.3 L644.3,312.9 L646.3,313.5 L648.3,314.1 L650.3,314.6 L652.3,315.2 L654.3,315.8 L656.3,316.4 L658.3,316.9 L660.3,317.5 L662.3,318.1 L664.3,318.6 L666.3,319.2 L668.3,319.8 L670.3,320.3 L672.3,320.9 L674.3,321.4 L676.3,322.0 L678.3,322.5 L680.3,323.0 L682.3,323.6 L684.3,324.1 L686.3,324.6" fill="none" stroke="#1b3a5c" stroke-width="2.4" stroke-linejoin="round" stroke-linecap="butt" />
<path d="M35.6,158.6 L264.4,158.6" fill="none" stroke="#1b3a5c" stroke-width="1.7" stroke-linejoin="round" stroke-linecap="butt" />
<path d="M35.6,273.3 L264.4,158.6" fill="none" stroke="#1b3a5c" stroke-width="1.9" stroke-linejoin="round" stroke-linecap="butt" />
<path d="M35.6,227.4 L414.5,227.4" fill="none" stroke="#1b3a5c" stroke-width="1.5" stroke-linejoin="round" stroke-linecap="butt" />
<path d="M35.6,295.9 L594.6,295.9" fill="none" stroke="#1b3a5c" stroke-width="1.5" stroke-linejoin="round" stroke-linecap="butt" />
<path d="M35.7,236.7 L37.7,236.4 L39.7,236.2 L41.7,235.9 L43.7,235.6 L45.7,235.4 L47.7,235.1 L49.7,234.8 L51.7,234.6 L53.7,234.4 L55.7,234.1 L57.7,233.9 L59.7,233.7 L61.7,233.4 L63.7,233.2 L65.7,233.0 L67.7,232.8 L69.7,232.6 L71.7,232.4 L73.7,232.2 L75.7,232.0 L77.7,231.8 L79.7,231.7 L81.6,231.5 L83.6,231.3 L85.6,231.2 L87.6,231.0 L89.6,230.9 L91.6,230.7 L93.6,230.6 L95.6,230.4 L97.6,230.3 L99.6,230.2 L101.6,230.1 L103.6,230.0 L105.6,229.8 L107.6,229.7 L109.6,229.6 L111.6,229.5 L113.6,229.4 L115.6,229.4 L117.6,229.3 L119.6,229.2 L121.6,229.1 L123.6,229.1 L125.6,229.0 L127.6,228.9 L129.6,228.9 L131.6,228.8 L133.6,228.8 L135.6,228.7 L137.6,228.7 L139.6,228.7 L141.6,228.7 L143.6,228.6 L145.6,228.6 L147.6,228.6 L149.6,228.6 L151.6,228.6 L153.6,228.6 L155.6,228.6 L157.6,228.6 L159.6,228.6 L161.6,228.6 L163.6,228.7 L165.6,228.7 L167.6,228.7 L169.5,228.8 L171.5,228.8 L173.5,228.8 L175.5,228.9 L177.5,228.9 L179.5,229.0 L181.5,229.1 L183.5,229.1 L185.5,229.2 L187.5,229.3 L189.5,229.3 L191.5,229.4 L193.5,229.5 L195.5,229.6 L197.5,229.7 L199.5,229.8 L201.5,229.9 L203.5,230.0 L205.5,230.1 L207.5,230.2 L209.5,230.4 L211.5,230.5 L213.5,230.6 L215.5,230.7 L217.5,230.9 L219.5,231.0 L221.5,231.2 L223.5,231.3 L225.5,231.5 L227.5,231.6 L229.5,231.8 L231.5,231.9 L233.5,232.1 L235.5,232.3 L237.5,232.5 L239.5,232.6 L241.5,232.8 L243.5,233.0 L245.5,233.2 L247.5,233.4 L249.5,233.6 L251.5,233.8 L253.5,234.0 L255.5,234.2 L257.4,234.4 L259.4,234.6 L261.4,234.9 L263.4,235.1 L265.4,235.3 L267.4,235.5 L269.4,235.8 L271.4,236.0 L273.4,236.2 L275.4,236.5 L277.4,236.7 L279.4,237.0 L281.4,237.2 L283.4,237.5 L285.4,237.8 L287.4,238.0 L289.4,238.3 L291.4,238.6 L293.4,238.9 L295.4,239.1 L297.4,239.4 L299.4,239.7 L301.4,240.0 L303.4,240.3 L305.4,240.6 L307.4,240.9 L309.4,241.2 L311.4,241.5 L313.4,241.8 L315.4,242.1 L317.4,242.4 L319.4,242.8 L321.4,243.1 L323.4,243.4 L325.4,243.7 L327.4,244.1 L329.4,244.4 L331.4,244.7 L333.4,245.1 L335.4,245.4 L337.4,245.8 L339.4,246.1 L341.4,246.5 L343.4,246.8 L345.3,247.2 L347.3,247.6 L349.3,247.9 L351.3,248.3 L353.3,248.7 L355.3,249.0 L357.3,249.4 L359.3,249.8 L361.3,250.2 L363.3,250.6 L365.3,251.0 L367.3,251.4 L369.3,251.8 L371.3,252.1 L373.3,252.6 L375.3,253.0 L377.3,253.4 L379.3,253.8 L381.3,254.2 L383.3,254.6 L385.3,255.0 L387.3,255.4 L389.3,255.9 L391.3,256.3 L393.3,256.7 L395.3,257.1 L397.3,257.6 L399.3,258.0 L401.3,258.5 L403.3,258.9 L405.3,259.3 L407.3,259.8 L409.3,260.2 L411.3,260.7 L413.3,261.1 L415.3,261.6 L417.3,262.1 L419.3,262.5 L421.3,263.0 L423.3,263.4 L425.3,263.9 L427.3,264.4 L429.3,264.9 L431.3,265.3 L433.3,265.8 L435.2,266.3 L437.2,266.8 L439.2,267.3 L441.2,267.7 L443.2,268.2 L445.2,268.7 L447.2,269.2 L449.2,269.7 L451.2,270.2 L453.2,270.7 L455.2,271.2 L457.2,271.7 L459.2,272.2 L461.2,272.7 L463.2,273.3 L465.2,273.8 L467.2,274.3 L469.2,274.8 L471.2,275.3 L473.2,275.8 L475.2,276.4 L477.2,276.9 L479.2,277.4 L481.2,278.0 L483.2,278.5 L485.2,279.0 L487.2,279.6 L489.2,280.1 L491.2,280.6 L493.2,281.2 L495.2,281.7 L497.2,282.3 L499.2,282.8 L501.2,283.4 L503.2,283.9 L505.2,284.5 L507.2,285.0 L509.2,285.6 L511.2,286.1 L513.2,286.7 L515.2,287.3 L517.2,287.8 L519.2,288.4 L521.2,289.0 L523.1,289.5 L525.1,290.1 L527.1,290.7 L529.1,291.2 L531.1,291.8 L533.1,292.4 L535.1,293.0 L537.1,293.5 L539.1,294.1 L541.1,294.7 L543.1,295.3 L545.1,295.9 L547.1,296.5 L549.1,297.1 L551.1,297.6 L553.1,298.2 L555.1,298.8 L557.1,299.4 L559.1,300.0 L561.1,300.6 L563.1,301.2 L565.1,301.8 L567.1,302.4 L569.1,303.0 L571.1,303.6 L573.1,304.2 L575.1,304.8 L577.1,305.4 L579.1,306.1 L581.1,306.7 L583.1,307.3 L585.1,307.9 L587.1,308.5 L589.1,309.1 L591.1,309.7 L593.1,310.3 L595.1,311.0 L597.1,311.6 L599.1,312.2 L601.1,312.8 L603.1,313.5 L605.1,314.1 L607.1,314.7 L609.1,315.3 L611.0,316.0 L613.0,316.6 L615.0,317.2 L617.0,317.8 L619.0,318.5 L621.0,319.1 L623.0,319.7 L625.0,320.4 L627.0,321.0 L629.0,321.6 L631.0,322.3 L633.0,322.9 L635.0,323.5 L637.0,324.2 L639.0,324.8 L641.0,325.5 L643.0,326.1 L645.0,326.8 L647.0,327.4 L649.0,328.0 L651.0,328.7 L653.0,329.3 L655.0,330.0" fill="none" stroke="#1b3a5c" stroke-width="1.5" stroke-linejoin="round" stroke-linecap="butt" />
<path d="M35.8,327.0 L37.8,326.8 L39.8,326.6 L41.8,326.4 L43.8,326.2 L45.8,326.0 L47.8,325.8 L49.8,325.7 L51.8,325.5 L53.8,325.3 L55.8,325.2 L57.9,325.0 L59.9,324.9 L61.9,324.8 L63.9,324.6 L65.9,324.5 L67.9,324.4 L69.9,324.3 L71.9,324.2 L73.9,324.1 L75.9,324.0 L77.9,323.9 L79.9,323.8 L81.9,323.7 L83.9,323.6 L85.9,323.6 L87.9,323.5 L89.9,323.4 L91.9,323.4 L93.9,323.3 L95.9,323.3 L97.9,323.3 L99.9,323.2 L102.0,323.2 L104.0,323.2 L106.0,323.2 L108.0,323.1 L110.0,323.1 L112.0,323.1 L114.0,323.1 L116.0,323.1 L118.0,323.2 L120.0,323.2 L122.0,323.2 L124.0,323.2 L126.0,323.3 L128.0,323.3 L130.0,323.3 L132.0,323.4 L134.0,323.4 L136.0,323.5 L138.0,323.5 L140.0,323.6 L142.0,323.7 L144.1,323.7 L146.1,323.8 L148.1,323.9 L150.1,324.0 L152.1,324.1 L154.1,324.2 L156.1,324.3 L158.1,324.4 L160.1,324.5 L162.1,324.6 L164.1,324.7 L166.1,324.8 L168.1,325.0 L170.1,325.1 L172.1,325.2 L174.1,325.4 L176.1,325.5 L178.1,325.7 L180.1,325.8 L182.1,326.0 L184.1,326.1 L186.1,326.3 L188.2,326.4 L190.2,326.6 L192.2,326.8 L194.2,327.0 L196.2,327.1 L198.2,327.3 L200.2,327.5 L202.2,327.7 L204.2,327.9 L206.2,328.1 L208.2,328.3 L210.2,328.5 L212.2,328.7 L214.2,328.9 L216.2,329.1 L218.2,329.4 L220.2,329.6 L222.2,329.8 L224.2,330.0 L226.2,330.3 L228.2,330.5 L230.2,330.7 L232.3,331.0 L234.3,331.2 L236.3,331.5 L238.3,331.7 L240.3,332.0 L242.3,332.2 L244.3,332.5 L246.3,332.8 L248.3,333.0 L250.3,333.3 L252.3,333.6 L254.3,333.9 L256.3,334.1 L258.3,334.4 L260.3,334.7 L262.3,335.0 L264.3,335.3 L266.3,335.6 L268.3,335.9 L270.3,336.2 L272.3,336.5 L274.4,336.8 L276.4,337.1 L278.4,337.4 L280.4,337.7 L282.4,338.0 L284.4,338.3 L286.4,338.6 L288.4,339.0 L290.4,339.3 L292.4,339.6 L294.4,339.9 L296.4,340.3 L298.4,340.6 L300.4,340.9 L302.4,341.3 L304.4,341.6 L306.4,341.9 L308.4,342.3 L310.4,342.6 L312.4,343.0 L314.4,343.3 L316.4,343.7 L318.5,344.0 L320.5,344.4 L322.5,344.7 L324.5,345.1 L326.5,345.5 L328.5,345.8 L330.5,346.2 L332.5,346.5 L334.5,346.9 L336.5,347.3 L338.5,347.6 L340.5,348.0 L342.5,348.4 L344.5,348.8 L346.5,349.1 L348.5,349.5 L350.5,349.9 L352.5,350.3 L354.5,350.7 L356.5,351.0 L358.5,351.4 L360.6,351.8 L362.6,352.2 L364.6,352.6 L366.6,353.0 L368.6,353.4 L370.6,353.8 L372.6,354.2 L374.6,354.6 L376.6,355.0 L378.6,355.3 L380.6,355.7 L382.6,356.1 L384.6,356.5 L386.6,356.9 L388.6,357.3 L390.6,357.7 L392.6,358.2 L394.6,358.6 L396.6,359.0 L398.6,359.4 L400.6,359.8 L402.6,360.2 L404.7,360.6 L406.7,361.0 L408.7,361.4 L410.7,361.8 L412.7,362.2 L414.7,362.6 L416.7,363.0 L418.7,363.5 L420.7,363.9 L422.7,364.3 L424.7,364.7" fill="none" stroke="#1b3a5c" stroke-width="1.5" stroke-linejoin="round" stroke-linecap="butt" />
<path d="M35.8,311.3 L37.8,311.2 L39.8,311.1 L41.8,311.1 L43.8,311.0 L45.8,310.9 L47.8,310.8 L49.8,310.8 L51.8,310.7 L53.8,310.6 L55.8,310.5 L57.8,310.4 L59.8,310.4 L61.8,310.3 L63.8,310.2 L65.8,310.2 L67.8,310.1 L69.8,310.0 L71.8,309.9 L73.7,309.9 L75.7,309.8 L77.7,309.7 L79.7,309.6 L81.7,309.5 L83.7,309.4 L85.7,309.3 L87.7,309.2 L89.7,309.2 L91.7,309.1 L93.7,309.0 L95.7,309.0 L97.7,308.9 L99.7,308.9 L101.7,308.9 L103.7,308.9 L105.7,309.0 L107.7,309.1 L109.7,309.2 L111.7,309.4 L113.7,309.6 L115.7,309.8 L117.7,310.1 L119.7,310.3 L121.7,310.6 L123.7,310.8 L125.7,311.1 L127.7,311.4 L129.7,311.7 L131.7,312.0 L133.7,312.4 L135.7,312.8 L137.7,313.2 L139.7,313.7 L141.7,314.1 L143.7,314.5 L145.7,315.0 L147.7,315.4 L149.6,315.8 L151.6,316.2 L153.6,316.6 L155.6,317.1 L157.6,317.5 L159.6,317.9 L161.6,318.3 L163.6,318.7 L165.6,319.2 L167.6,319.6 L169.6,320.0 L171.6,320.4 L173.6,320.9 L175.6,321.3 L177.6,321.7 L179.6,322.1 L181.6,322.5 L183.6,323.0 L185.6,323.4 L187.6,323.8 L189.6,324.2 L191.6,324.6 L193.6,325.0 L195.6,325.4 L197.6,325.8 L199.6,326.3 L201.6,326.7 L203.6,327.1 L205.6,327.5 L207.6,327.9 L209.6,328.3 L211.6,328.7 L213.6,329.1 L215.6,329.5 L217.6,329.9 L219.6,330.3 L221.6,330.7 L223.5,331.1 L225.5,331.5 L227.5,331.9 L229.5,332.3 L231.5,332.7 L233.5,333.1 L235.5,333.5 L237.5,333.9 L239.5,334.3 L241.5,334.7 L243.5,335.1 L245.5,335.5 L247.5,335.9 L249.5,336.3 L251.5,336.7 L253.5,337.1 L255.5,337.5 L257.5,337.9 L259.5,338.4 L261.5,338.8 L263.5,339.2 L265.5,339.6 L267.5,340.0 L269.5,340.4 L271.5,340.8 L273.5,341.3 L275.5,341.7 L277.5,342.1 L279.5,342.5 L281.5,342.9 L283.5,343.3 L285.5,343.7 L287.5,344.1 L289.5,344.5 L291.5,344.9 L293.5,345.3 L295.5,345.7 L297.4,346.1 L299.4,346.5 L301.4,346.9 L303.4,347.3 L305.4,347.7 L307.4,348.0 L309.4,348.4 L311.4,348.8 L313.4,349.2 L315.4,349.6 L317.4,350.0 L319.4,350.4 L321.4,350.7 L323.4,351.1 L325.4,351.5 L327.4,351.9 L329.4,352.3 L331.4,352.6 L333.4,353.0 L335.4,353.4 L337.4,353.8 L339.4,354.2 L341.4,354.5 L343.4,354.9 L345.4,355.3 L347.4,355.7 L349.4,356.0 L351.4,356.4 L353.4,356.8 L355.4,357.1 L357.4,357.5 L359.4,357.9 L361.4,358.2 L363.4,358.6 L365.4,359.0 L367.4,359.3 L369.4,359.7 L371.4,360.1 L373.3,360.4 L375.3,360.8 L377.3,361.2 L379.3,361.5 L381.3,361.9 L383.3,362.2 L385.3,362.6 L387.3,363.0 L389.3,363.3 L391.3,363.7 L393.3,364.0 L395.3,364.4 L397.3,364.7 L399.3,365.1 L401.3,365.4 L403.3,365.8 L405.3,366.1 L407.3,366.5 L409.3,366.8" fill="none" stroke="#22364d" stroke-width="0.9" stroke-linejoin="round" stroke-linecap="butt" />
<path d="M35.6,303.6 L366.5,204.7" fill="none" stroke="#1b3a5c" stroke-width="1.5" stroke-linejoin="round" stroke-linecap="butt" />
<path d="M35.8,311.3 L37.8,311.3 L39.8,311.3 L41.8,311.3 L43.8,311.3 L45.8,311.3 L47.8,311.3 L49.8,311.2 L51.8,311.2 L53.8,311.2 L55.8,311.1 L57.8,311.0 L59.8,311.0 L61.8,310.9 L63.8,310.8 L65.8,310.7 L67.8,310.6 L69.8,310.6 L71.8,310.4 L73.8,310.3 L75.8,310.2 L77.8,310.1 L79.8,310.0 L81.8,309.8 L83.8,309.7 L85.8,309.6 L87.8,309.4 L89.8,309.3 L91.9,309.1 L93.9,308.9 L95.9,308.8 L97.9,308.6 L99.9,308.4 L101.9,308.2 L103.9,308.0 L105.9,307.8 L107.9,307.6 L109.9,307.4 L111.9,307.2 L113.9,307.0 L115.9,306.8 L117.9,306.6 L119.9,306.4 L121.9,306.1 L123.9,305.9 L125.9,305.7 L127.9,305.4 L129.9,305.2 L131.9,304.9 L133.9,304.7 L135.9,304.4 L137.9,304.2 L139.9,303.9 L141.9,303.7 L143.9,303.4 L145.9,303.1 L147.9,302.9 L149.9,302.6 L151.9,302.3 L153.9,302.0 L155.9,301.8 L157.9,301.5 L159.9,301.2 L161.9,300.9 L163.9,300.6 L165.9,300.3 L167.9,300.1 L169.9,299.8 L171.9,299.5 L173.9,299.2 L175.9,298.9 L177.9,298.6 L179.9,298.3 L181.9,298.0 L183.9,297.7 L185.9,297.4 L187.9,297.1 L189.9,296.8 L191.9,296.4 L193.9,296.1 L195.9,295.8 L197.9,295.5 L200.0,295.2 L202.0,294.9 L204.0,294.6 L206.0,294.3 L208.0,294.0 L210.0,293.7 L212.0,293.4 L214.0,293.0 L216.0,292.7 L218.0,292.4 L220.0,292.1 L222.0,291.8 L224.0,291.5 L226.0,291.2 L228.0,290.8 L230.0,290.5 L232.0,290.2 L234.0,289.9 L236.0,289.6 L238.0,289.3 L240.0,289.0 L242.0,288.6 L244.0,288.3 L246.0,288.0 L248.0,287.7 L250.0,287.4 L252.0,287.1 L254.0,286.7 L256.0,286.4 L258.0,286.1 L260.0,285.8 L262.0,285.5 L264.0,285.1 L266.0,284.8 L268.0,284.5 L270.0,284.2 L272.0,283.9 L274.0,283.5 L276.0,283.2 L278.0,282.9 L280.0,282.6 L282.0,282.3 L284.0,281.9 L286.0,281.6 L288.0,281.3 L290.0,281.0 L292.0,280.6 L294.0,280.3 L296.0,280.0 L298.0,279.7 L300.0,279.4 L302.0,279.0 L304.0,278.7 L306.0,278.4 L308.0,278.1 L310.1,277.8 L312.1,277.4 L314.1,277.1 L316.1,276.8 L318.1,276.5 L320.1,276.1 L322.1,275.8 L324.1,275.5 L326.1,275.2 L328.1,274.9 L330.1,274.5 L332.1,274.2 L334.1,273.9 L336.1,273.6 L338.1,273.3 L340.1,272.9 L342.1,272.6 L344.1,272.3 L346.1,272.0 L348.1,271.7 L350.1,271.3 L352.1,271.0 L354.1,270.7 L356.1,270.4 L358.1,270.1 L360.1,269.8 L362.1,269.4 L364.1,269.1 L366.1,268.8 L368.1,268.5 L370.1,268.2 L372.1,267.8 L374.1,267.5 L376.1,267.2 L378.1,266.9 L380.1,266.6 L382.1,266.3 L384.1,266.0 L386.1,265.6 L388.1,265.3 L390.1,265.0 L392.1,264.7 L394.1,264.4 L396.1,264.1 L398.1,263.8 L400.1,263.5 L402.1,263.1 L404.1,262.8 L406.1,262.5 L408.1,262.2 L410.1,261.9 L412.1,261.6 L414.1,261.3 L416.1,261.0 L418.2,260.7 L420.2,260.4 L422.2,260.1 L424.2,259.8 L426.2,259.5 L428.2,259.2 L430.2,258.9 L432.2,258.5 L434.2,258.2 L436.2,257.9 L438.2,257.6 L440.2,257.3 L442.2,257.0 L444.2,256.7 L446.2,256.4 L448.2,256.1 L450.2,255.8 L452.2,255.6 L454.2,255.3 L456.2,255.0 L458.2,254.7 L460.2,254.4 L462.2,254.1 L464.2,253.8 L466.2,253.5 L468.2,253.2 L470.2,252.9 L472.2,252.6" fill="none" stroke="#1b3a5c" stroke-width="1.5" stroke-linejoin="round" stroke-linecap="butt" />
<path d="M35.8,311.3 L37.8,311.3 L39.8,311.3 L41.8,311.2 L43.8,311.2 L45.8,311.2 L47.8,311.2 L49.8,311.2 L51.8,311.2 L53.8,311.2 L55.8,311.2 L57.8,311.2 L59.8,311.2 L61.8,311.3 L63.8,311.3 L65.8,311.3 L67.8,311.3 L69.8,311.3 L71.9,311.3 L73.9,311.3 L75.9,311.4 L77.9,311.4 L79.9,311.4 L81.9,311.4 L83.9,311.4 L85.9,311.4 L87.9,311.5 L89.9,311.5 L91.9,311.5 L93.9,311.5 L95.9,311.5 L97.9,311.5 L99.9,311.5 L101.9,311.5 L103.9,311.5 L105.9,311.5 L107.9,311.5 L109.9,311.5 L111.9,311.5 L113.9,311.5 L115.9,311.4 L117.9,311.4 L119.9,311.4 L121.9,311.3 L123.9,311.3 L125.9,311.3 L127.9,311.2 L129.9,311.2 L131.9,311.1 L133.9,311.1 L135.9,311.0 L137.9,310.9 L140.0,310.9 L142.0,310.8 L144.0,310.7 L146.0,310.6 L148.0,310.5 L150.0,310.4 L152.0,310.3 L154.0,310.2 L156.0,310.1 L158.0,310.0 L160.0,309.9 L162.0,309.8 L164.0,309.6 L166.0,309.5 L168.0,309.4 L170.0,309.2 L172.0,309.1 L174.0,308.9 L176.0,308.7 L178.0,308.6 L180.0,308.4 L182.0,308.2 L184.0,308.0 L186.0,307.9 L188.0,307.7 L190.0,307.5 L192.0,307.3 L194.0,307.0 L196.0,306.8 L198.0,306.6 L200.0,306.4 L202.0,306.2 L204.0,305.9 L206.0,305.7 L208.1,305.5 L210.1,305.2 L212.1,305.0 L214.1,304.7 L216.1,304.5 L218.1,304.3 L220.1,304.0 L222.1,303.7 L224.1,303.5 L226.1,303.2 L228.1,303.0 L230.1,302.7 L232.1,302.5 L234.1,302.2 L236.1,301.9 L238.1,301.7 L240.1,301.4 L242.1,301.2 L244.1,300.9 L246.1,300.6 L248.1,300.4 L250.1,300.1 L252.1,299.9 L254.1,299.6 L256.1,299.3 L258.1,299.1 L260.1,298.8 L262.1,298.6 L264.1,298.3 L266.1,298.1 L268.1,297.8 L270.1,297.6 L272.1,297.4 L274.1,297.1 L276.1,296.9 L278.2,296.7 L280.2,296.4 L282.2,296.2 L284.2,296.0 L286.2,295.7 L288.2,295.5 L290.2,295.3 L292.2,295.1 L294.2,294.8 L296.2,294.6 L298.2,294.4 L300.2,294.2 L302.2,294.0 L304.2,293.8 L306.2,293.5 L308.2,293.3 L310.2,293.1 L312.2,292.9 L314.2,292.7 L316.2,292.5 L318.2,292.3 L320.2,292.1 L322.2,291.8 L324.2,291.6 L326.2,291.4 L328.2,291.2 L330.2,291.0 L332.2,290.8 L334.2,290.6 L336.2,290.3 L338.2,290.1 L340.2,289.9 L342.2,289.7 L344.2,289.5 L346.3,289.2 L348.3,289.0 L350.3,288.8 L352.3,288.6 L354.3,288.3 L356.3,288.1 L358.3,287.9 L360.3,287.6 L362.3,287.4 L364.3,287.2 L366.3,286.9 L368.3,286.7 L370.3,286.4 L372.3,286.2 L374.3,285.9 L376.3,285.7 L378.3,285.4 L380.3,285.2 L382.3,284.9 L384.3,284.7 L386.3,284.4 L388.3,284.1 L390.3,283.9 L392.3,283.6 L394.3,283.3 L396.3,283.1 L398.3,282.8 L400.3,282.5 L402.3,282.3 L404.3,282.0 L406.3,281.7 L408.3,281.4 L410.3,281.2 L412.3,280.9 L414.4,280.6 L416.4,280.3 L418.4,280.1 L420.4,279.8 L422.4,279.5 L424.4,279.2 L426.4,279.0 L428.4,278.7 L430.4,278.4 L432.4,278.2 L434.4,277.9 L436.4,277.6 L438.4,277.4 L440.4,277.1 L442.4,276.8 L444.4,276.6 L446.4,276.3 L448.4,276.1 L450.4,275.8 L452.4,275.5 L454.4,275.3 L456.4,275.0 L458.4,274.8 L460.4,274.5 L462.4,274.3 L464.4,274.1 L466.4,273.8 L468.4,273.6 L470.4,273.4 L472.4,273.1 L474.4,272.9 L476.4,272.7 L478.4,272.5 L480.4,272.2 L482.5,272.0 L484.5,271.8 L486.5,271.6 L488.5,271.4 L490.5,271.2 L492.5,271.0 L494.5,270.8 L496.5,270.7 L498.5,270.5 L500.5,270.3 L502.5,270.1 L504.5,270.0 L506.5,269.8 L508.5,269.7 L510.5,269.5 L512.5,269.4 L514.5,269.2 L516.5,269.1" fill="none" stroke="#1b3a5c" stroke-width="1.5" stroke-linejoin="round" stroke-linecap="butt" />
<path d="M57.6,360.4 L59.6,358.1 L61.6,355.9 L63.6,353.7 L65.6,351.5 L67.6,349.4 L69.6,347.3 L71.7,345.2 L73.7,343.2 L75.7,341.2 L77.7,339.2 L79.7,337.2 L81.7,335.3 L83.7,333.4 L85.7,331.6 L87.7,329.7 L89.7,327.9 L91.7,326.2 L93.7,324.4 L95.7,322.7 L97.8,321.0 L99.8,319.3 L101.8,317.7 L103.8,316.1 L105.8,314.5 L107.8,312.9 L109.8,311.4 L111.8,309.9 L113.8,308.3 L115.8,306.9 L117.8,305.4 L119.8,304.0 L121.8,302.6 L123.9,301.2 L125.9,299.8 L127.9,298.4 L129.9,297.1 L131.9,295.8 L133.9,294.4 L135.9,293.3 L137.9,292.1 L139.9,290.8 L141.9,289.6 L143.9,288.4 L145.9,287.3 L147.9,286.1 L150.0,284.9 L152.0,283.8 L154.0,282.6 L156.0,281.5 L158.0,280.4 L160.0,279.3 L162.0,278.2 L164.0,277.1 L166.0,275.9 L168.0,274.8 L170.0,273.6 L172.0,272.4 L174.1,271.2 L176.1,270.0 L178.1,268.8 L180.1,267.7 L182.1,266.5 L184.1,265.4 L186.1,264.2 L188.1,263.1 L190.1,262.1 L192.1,261.1 L194.1,260.0 L196.1,259.0 L198.1,258.0 L200.2,257.0 L202.2,256.0 L204.2,255.1 L206.2,254.1 L208.2,253.2 L210.2,252.3 L212.2,251.4 L214.2,250.4 L216.2,249.5 L218.2,248.6 L220.2,247.7 L222.2,246.8 L224.2,245.9 L226.3,245.0 L228.3,244.1 L230.3,243.2 L232.3,242.3 L234.3,241.5 L236.3,240.6 L238.3,239.8 L240.3,238.9 L242.3,238.1 L244.3,237.3 L246.3,236.6 L248.3,235.8 L250.3,235.0 L252.4,234.3 L254.4,233.6 L256.4,232.8 L258.4,232.1 L260.4,231.4 L262.4,230.7 L264.4,230.0" fill="none" stroke="#0a0a0a" stroke-width="1.5" stroke-linejoin="round" stroke-linecap="butt" />
<path d="M57.6,360.1 L59.6,357.8 L61.6,355.5 L63.6,353.3 L65.6,351.1 L67.6,348.9 L69.6,346.7 L71.7,344.6 L73.7,342.5 L75.7,340.4 L77.7,338.4 L79.7,336.4 L81.7,334.4 L83.7,332.5 L85.7,330.5 L87.7,328.6 L89.7,326.8 L91.7,324.9 L93.7,323.1 L95.7,321.3 L97.8,319.5 L99.8,317.8 L101.8,316.1 L103.8,314.4 L105.8,312.7 L107.8,311.1 L109.8,309.5 L111.8,307.9 L113.8,306.3 L115.8,304.7 L117.8,303.2 L119.8,301.7 L121.8,300.2 L123.9,298.8 L125.9,297.3 L127.9,295.9 L129.9,294.5 L131.9,293.1 L133.9,291.8 L135.9,290.4 L137.9,289.1 L139.9,287.8 L141.9,286.5 L143.9,285.3 L145.9,284.0 L147.9,282.8 L150.0,281.6 L152.0,280.4 L154.0,279.2 L156.0,278.0 L158.0,276.9 L160.0,275.8 L162.0,274.7 L164.0,273.6 L166.0,272.5 L168.0,271.4 L170.0,270.3 L172.0,269.3 L174.1,268.2 L176.1,267.2 L178.1,266.2 L180.1,265.2 L182.1,264.2 L184.1,263.2 L186.1,262.3 L188.1,261.3 L190.1,260.4 L192.1,259.4 L194.1,258.5 L196.1,257.6 L198.1,256.6 L200.2,255.7 L202.2,254.8 L204.2,253.9 L206.2,253.0 L208.2,252.1 L210.2,251.2 L212.2,250.3 L214.2,249.4 L216.2,248.6 L218.2,247.7 L220.2,246.9 L222.2,246.0 L224.2,245.2 L226.3,244.4 L228.3,243.6 L230.3,242.8 L232.3,242.0 L234.3,241.2 L236.3,240.4 L238.3,239.6 L240.3,238.9 L242.3,238.1 L244.3,237.3 L246.3,236.6 L248.3,235.8 L250.3,235.1 L252.4,234.4 L254.4,233.6 L256.4,232.9 L258.4,232.2 L260.4,231.5 L262.4,230.7 L264.4,230.0" fill="none" stroke="#0a0a0a" stroke-width="1.5" stroke-linejoin="round" stroke-linecap="butt" />
<path d="M57.6,360.2 L59.6,357.8 L61.6,355.6 L63.6,353.3 L65.6,351.0 L67.6,348.8 L69.6,346.7 L71.7,344.5 L73.7,342.4 L75.7,340.3 L77.7,338.2 L79.7,336.2 L81.7,334.2 L83.7,332.2 L85.7,330.3 L87.7,328.3 L89.7,326.4 L91.7,324.6 L93.7,322.7 L95.7,320.9 L97.8,319.1 L99.8,317.4 L101.8,315.6 L103.8,313.9 L105.8,312.3 L107.8,310.6 L109.8,309.0 L111.8,307.4 L113.8,305.8 L115.8,304.3 L117.8,302.8 L119.8,301.3 L121.8,299.8 L123.9,298.3 L125.9,296.9 L127.9,295.5 L129.9,294.1 L131.9,292.8 L133.9,291.4 L135.9,290.1 L137.9,288.8 L139.9,287.5 L141.9,286.3 L143.9,285.1 L145.9,283.8 L147.9,282.6 L150.0,281.5 L152.0,280.3 L154.0,279.2 L156.0,278.1 L158.0,277.0 L160.0,275.9 L162.0,274.8 L164.0,273.7 L166.0,272.7 L168.0,271.7 L170.0,270.6 L172.0,269.6 L174.1,268.6 L176.1,267.6 L178.1,266.6 L180.1,265.7 L182.1,264.7 L184.1,263.8 L186.1,262.8 L188.1,261.9 L190.1,261.0 L192.1,260.1 L194.1,259.2 L196.1,258.2 L198.1,257.3 L200.2,256.4 L202.2,255.5 L204.2,254.6 L206.2,253.7 L208.2,252.8 L210.2,251.9 L212.2,251.1 L214.2,250.2 L216.2,249.3 L218.2,248.5 L220.2,247.6 L222.2,246.8 L224.2,246.0 L226.3,245.1 L228.3,244.3 L230.3,243.5 L232.3,242.7 L234.3,241.8 L236.3,241.0 L238.3,240.2 L240.3,239.4 L242.3,238.6 L244.3,237.8 L246.3,237.0 L248.3,236.3 L250.3,235.5 L252.4,234.7 L254.4,233.9 L256.4,233.1 L258.4,232.4 L260.4,231.6 L262.4,230.8 L264.4,230.0" fill="none" stroke="#0a0a0a" stroke-width="2.3" stroke-linejoin="round" stroke-linecap="butt" />
<path d="M57.6,361.0 L59.6,358.8 L61.6,356.5 L63.6,354.3 L65.6,352.2 L67.6,350.0 L69.6,347.9 L71.6,345.8 L73.6,343.7 L75.7,341.7 L77.7,339.6 L79.7,337.6 L81.7,335.7 L83.7,333.7 L85.7,331.8 L87.7,329.9 L89.7,328.0 L91.7,326.2 L93.7,324.4 L95.7,322.6 L97.7,320.8 L99.7,319.1 L101.7,317.4 L103.7,315.7 L105.7,314.0 L107.7,312.4 L109.8,310.7 L111.8,309.1 L113.8,307.6 L115.8,306.0 L117.8,304.5 L119.8,303.0 L121.8,301.6 L123.8,300.1 L125.8,298.7 L127.8,297.3 L129.8,295.9 L131.8,294.6 L133.8,293.3 L135.8,292.0 L137.8,290.7 L139.8,289.4 L141.8,288.2 L143.9,287.0 L145.9,285.8 L147.9,284.6 L149.9,283.5 L151.9,282.3 L153.9,281.2 L155.9,280.1 L157.9,279.0 L159.9,278.0 L161.9,276.9 L163.9,275.9 L165.9,274.9 L167.9,273.9 L169.9,272.9 L171.9,271.9 L173.9,270.9 L175.9,269.9 L178.0,269.0 L180.0,268.0 L182.0,267.1 L184.0,266.1 L186.0,265.2 L188.0,264.3 L190.0,263.4 L192.0,262.5 L194.0,261.6 L196.0,260.8 L198.0,259.9 L200.0,259.1 L202.0,258.2 L204.0,257.4 L206.0,256.6 L208.0,255.7 L210.0,254.9 L212.0,254.1 L214.1,253.3 L216.1,252.5 L218.1,251.7 L220.1,250.9 L222.1,250.2 L224.1,249.4 L226.1,248.6 L228.1,247.9 L230.1,247.1 L232.1,246.3 L234.1,245.6 L236.1,244.9 L238.1,244.1 L240.1,243.4 L242.1,242.7 L244.1,242.0 L246.1,241.3 L248.2,240.6 L250.2,239.9 L252.2,239.2 L254.2,238.5 L256.2,237.8 L258.2,237.1 L260.2,236.4 L262.2,235.8 L264.2,235.1 L266.2,234.5 L268.2,233.8 L270.2,233.2 L272.2,232.5 L274.2,231.9 L276.2,231.3 L278.2,230.7 L280.2,230.1 L282.3,229.4 L284.3,228.8 L286.3,228.2 L288.3,227.7 L290.3,227.1 L292.3,226.5 L294.3,225.9 L296.3,225.3 L298.3,224.8 L300.3,224.2 L302.3,223.7 L304.3,223.1 L306.3,222.6 L308.3,222.0 L310.3,221.5 L312.3,221.0 L314.3,220.4 L316.4,219.9 L318.4,219.4 L320.4,218.9 L322.4,218.4 L324.4,217.9 L326.4,217.4 L328.4,216.9 L330.4,216.5 L332.4,216.0 L334.4,215.5 L336.4,215.1 L338.4,214.6 L340.4,214.2 L342.4,213.7 L344.4,213.3 L346.4,212.8 L348.4,212.4 L350.5,212.0 L352.5,211.6 L354.5,211.2 L356.5,210.7 L358.5,210.3 L360.5,209.9 L362.5,209.6 L364.5,209.2 L366.5,208.8" fill="none" stroke="#0a0a0a" stroke-width="1.5" stroke-linejoin="round" stroke-linecap="butt" />
<path d="M57.6,360.1 L59.6,357.8 L61.6,355.5 L63.6,353.3 L65.6,351.0 L67.6,348.9 L69.6,346.7 L71.6,344.6 L73.6,342.5 L75.6,340.4 L77.7,338.4 L79.7,336.3 L81.7,334.4 L83.7,332.4 L85.7,330.5 L87.7,328.6 L89.7,326.7 L91.7,324.8 L93.7,323.0 L95.7,321.2 L97.7,319.4 L99.7,317.7 L101.7,315.9 L103.7,314.2 L105.7,312.5 L107.7,310.9 L109.7,309.2 L111.7,307.6 L113.7,306.0 L115.7,304.4 L117.8,302.9 L119.8,301.4 L121.8,299.9 L123.8,298.4 L125.8,296.9 L127.8,295.5 L129.8,294.0 L131.8,292.6 L133.8,291.2 L135.8,289.9 L137.8,288.5 L139.8,287.2 L141.8,285.9 L143.8,284.6 L145.8,283.3 L147.8,282.0 L149.8,280.8 L151.8,279.6 L153.8,278.3 L155.8,277.2 L157.9,276.0 L159.9,274.8 L161.9,273.7 L163.9,272.5 L165.9,271.4 L167.9,270.3 L169.9,269.2 L171.9,268.2 L173.9,267.1 L175.9,266.1 L177.9,265.0 L179.9,264.0 L181.9,263.0 L183.9,262.0 L185.9,261.1 L187.9,260.1 L189.9,259.2 L191.9,258.2 L193.9,257.3 L195.9,256.4 L198.0,255.5 L200.0,254.6 L202.0,253.7 L204.0,252.9 L206.0,252.0 L208.0,251.2 L210.0,250.4 L212.0,249.6 L214.0,248.8 L216.0,248.0 L218.0,247.2 L220.0,246.4 L222.0,245.6 L224.0,244.9 L226.0,244.1 L228.0,243.4 L230.0,242.7 L232.0,242.0 L234.0,241.3 L236.0,240.6 L238.1,239.9 L240.1,239.2 L242.1,238.5 L244.1,237.9 L246.1,237.2 L248.1,236.6 L250.1,236.0 L252.1,235.3 L254.1,234.7 L256.1,234.1 L258.1,233.5 L260.1,232.9 L262.1,232.3 L264.1,231.8 L266.1,231.2 L268.1,230.6 L270.1,230.1 L272.1,229.5 L274.1,229.0 L276.2,228.5 L278.2,227.9 L280.2,227.4 L282.2,226.9 L284.2,226.4 L286.2,225.9 L288.2,225.4 L290.2,224.9 L292.2,224.5 L294.2,224.0 L296.2,223.5 L298.2,223.1 L300.2,222.6 L302.2,222.2 L304.2,221.8 L306.2,221.3 L308.2,220.9 L310.2,220.5 L312.2,220.1 L314.2,219.7 L316.3,219.3 L318.3,218.9 L320.3,218.5 L322.3,218.1 L324.3,217.7 L326.3,217.4 L328.3,217.0 L330.3,216.6 L332.3,216.3 L334.3,215.9 L336.3,215.6 L338.3,215.3 L340.3,214.9 L342.3,214.6 L344.3,214.3 L346.3,214.0 L348.3,213.7 L350.3,213.4 L352.3,213.1 L354.3,212.9 L356.4,212.6 L358.4,212.4 L360.4,212.1 L362.4,211.9 L364.4,211.6 L366.4,211.4 L368.4,211.1 L370.4,210.9 L372.4,210.7 L374.4,210.5 L376.4,210.2 L378.4,210.0 L380.4,209.8 L382.4,209.6 L384.4,209.4 L386.4,209.2 L388.4,209.0 L390.4,208.8 L392.4,208.7 L394.4,208.5 L396.5,208.3 L398.5,208.1 L400.5,208.0 L402.5,207.8 L404.5,207.7 L406.5,207.5 L408.5,207.3 L410.5,207.2 L412.5,207.1 L414.5,206.9" fill="none" stroke="#0a0a0a" stroke-width="1.5" stroke-linejoin="round" stroke-linecap="butt" />
<path d="M57.6,361.8 L59.6,359.6 L61.6,357.5 L63.6,355.5 L65.6,353.4 L67.6,351.4 L69.6,349.5 L71.6,347.5 L73.6,345.6 L75.6,343.8 L77.6,341.9 L79.6,340.1 L81.6,338.3 L83.6,336.5 L85.6,334.8 L87.6,333.1 L89.6,331.4 L91.6,329.7 L93.7,328.0 L95.7,326.4 L97.7,324.8 L99.7,323.2 L101.7,321.7 L103.7,320.1 L105.7,318.6 L107.7,317.1 L109.7,315.6 L111.7,314.2 L113.7,312.7 L115.7,311.3 L117.7,309.9 L119.7,308.5 L121.7,307.1 L123.7,305.8 L125.7,304.5 L127.7,303.1 L129.7,301.8 L131.7,300.5 L133.7,299.3 L135.7,298.0 L137.7,296.8 L139.7,295.5 L141.7,294.3 L143.7,293.1 L145.7,291.9 L147.7,290.8 L149.7,289.6 L151.7,288.5 L153.7,287.3 L155.7,286.2 L157.7,285.1 L159.7,284.0 L161.8,282.9 L163.8,281.8 L165.8,280.8 L167.8,279.7 L169.8,278.6 L171.8,277.5 L173.8,276.3 L175.8,275.2 L177.8,274.2 L179.8,273.1 L181.8,272.0 L183.8,271.0 L185.8,269.9 L187.8,268.9 L189.8,267.9 L191.8,266.9 L193.8,265.9 L195.8,265.0 L197.8,264.0 L199.8,263.1 L201.8,262.1 L203.8,261.2 L205.8,260.3 L207.8,259.4 L209.8,258.5 L211.8,257.7 L213.8,256.8 L215.8,256.0 L217.8,255.1 L219.8,254.3 L221.8,253.5 L223.8,252.7 L225.8,251.9 L227.8,251.2 L229.8,250.4 L231.9,249.7 L233.9,248.9 L235.9,248.2 L237.9,247.5 L239.9,246.8 L241.9,246.1 L243.9,245.4 L245.9,244.7 L247.9,244.0 L249.9,243.4 L251.9,242.7 L253.9,242.1 L255.9,241.4 L257.9,240.8 L259.9,240.2 L261.9,239.6 L263.9,239.0 L265.9,238.4 L267.9,237.9 L269.9,237.3 L271.9,236.7 L273.9,236.2 L275.9,235.6 L277.9,235.1 L279.9,234.6 L281.9,234.1 L283.9,233.5 L285.9,233.0 L287.9,232.6 L289.9,232.1 L291.9,231.6 L293.9,231.1 L295.9,230.7 L297.9,230.2 L300.0,229.7 L302.0,229.3 L304.0,228.9 L306.0,228.4 L308.0,228.0 L310.0,227.6 L312.0,227.2 L314.0,226.8 L316.0,226.4 L318.0,226.0 L320.0,225.6 L322.0,225.2 L324.0,224.9 L326.0,224.5 L328.0,224.1 L330.0,223.8 L332.0,223.4 L334.0,223.1 L336.0,222.8 L338.0,222.4 L340.0,222.1 L342.0,221.8 L344.0,221.5 L346.0,221.2 L348.0,220.9 L350.0,220.6 L352.0,220.3 L354.0,220.0 L356.0,219.7 L358.0,219.4 L360.0,219.1 L362.0,218.9 L364.0,218.6 L366.0,218.3 L368.0,218.1 L370.1,217.8 L372.1,217.6 L374.1,217.4 L376.1,217.1 L378.1,216.9 L380.1,216.7 L382.1,216.4 L384.1,216.2 L386.1,216.0 L388.1,215.8 L390.1,215.6 L392.1,215.4 L394.1,215.2 L396.1,215.0 L398.1,214.8 L400.1,214.6 L402.1,214.4 L404.1,214.3 L406.1,214.1 L408.1,214.0 L410.1,213.8 L412.1,213.7 L414.1,213.5 L416.1,213.4 L418.1,213.3 L420.1,213.2 L422.1,213.0 L424.1,212.9 L426.1,212.8 L428.1,212.7 L430.1,212.6 L432.1,212.5 L434.1,212.4 L436.1,212.3 L438.2,212.2 L440.2,212.1 L442.2,212.0 L444.2,211.9 L446.2,211.8 L448.2,211.8 L450.2,211.7 L452.2,211.6 L454.2,211.5 L456.2,211.5 L458.2,211.4 L460.2,211.4 L462.2,211.3 L464.2,211.2 L466.2,211.2 L468.2,211.1 L470.2,211.1 L472.2,211.0" fill="none" stroke="#0a0a0a" stroke-width="1.5" stroke-linejoin="round" stroke-linecap="butt" />
<path d="M57.6,361.5 L59.6,359.3 L61.6,357.2 L63.6,355.2 L65.6,353.1 L67.6,351.1 L69.6,349.1 L71.6,347.2 L73.6,345.3 L75.6,343.4 L77.6,341.6 L79.6,339.7 L81.6,338.0 L83.7,336.2 L85.7,334.5 L87.7,332.8 L89.7,331.1 L91.7,329.4 L93.7,327.8 L95.7,326.2 L97.7,324.6 L99.7,323.1 L101.7,321.5 L103.7,320.0 L105.7,318.5 L107.7,317.1 L109.7,315.6 L111.7,314.2 L113.7,312.8 L115.7,311.4 L117.7,310.0 L119.7,308.7 L121.7,307.4 L123.7,306.1 L125.7,304.8 L127.7,303.5 L129.7,302.2 L131.7,301.0 L133.7,299.8 L135.8,298.5 L137.8,297.4 L139.8,296.2 L141.8,295.0 L143.8,293.9 L145.8,292.7 L147.8,291.6 L149.8,290.5 L151.8,289.4 L153.8,288.3 L155.8,287.3 L157.8,286.2 L159.8,285.2 L161.8,284.2 L163.8,283.2 L165.8,282.2 L167.8,281.2 L169.8,280.1 L171.8,279.0 L173.8,277.9 L175.8,276.9 L177.8,275.8 L179.8,274.8 L181.8,273.8 L183.8,272.8 L185.9,271.8 L187.9,270.9 L189.9,269.9 L191.9,269.0 L193.9,268.0 L195.9,267.1 L197.9,266.2 L199.9,265.3 L201.9,264.5 L203.9,263.6 L205.9,262.8 L207.9,261.9 L209.9,261.1 L211.9,260.3 L213.9,259.5 L215.9,258.7 L217.9,257.9 L219.9,257.2 L221.9,256.4 L223.9,255.6 L225.9,254.9 L227.9,254.2 L229.9,253.4 L231.9,252.7 L233.9,252.0 L235.9,251.3 L238.0,250.6 L240.0,249.9 L242.0,249.2 L244.0,248.6 L246.0,247.9 L248.0,247.2 L250.0,246.6 L252.0,245.9 L254.0,245.3 L256.0,244.7 L258.0,244.0 L260.0,243.4 L262.0,242.8 L264.0,242.2 L266.0,241.5 L268.0,240.9 L270.0,240.3 L272.0,239.8 L274.0,239.2 L276.0,238.6 L278.0,238.1 L280.0,237.5 L282.0,237.0 L284.0,236.5 L286.0,235.9 L288.1,235.5 L290.1,235.0 L292.1,234.5 L294.1,234.0 L296.1,233.6 L298.1,233.1 L300.1,232.7 L302.1,232.3 L304.1,231.9 L306.1,231.6 L308.1,231.2 L310.1,230.9 L312.1,230.5 L314.1,230.2 L316.1,229.9 L318.1,229.6 L320.1,229.4 L322.1,229.1 L324.1,228.9 L326.1,228.7 L328.1,228.4 L330.1,228.2 L332.1,228.0 L334.1,227.9 L336.1,227.7 L338.2,227.5 L340.2,227.4 L342.2,227.2 L344.2,227.1 L346.2,226.9 L348.2,226.8 L350.2,226.6 L352.2,226.5 L354.2,226.4 L356.2,226.2 L358.2,226.1 L360.2,226.0 L362.2,225.8 L364.2,225.7 L366.2,225.6 L368.2,225.4 L370.2,225.3 L372.2,225.1 L374.2,225.0 L376.2,224.8 L378.2,224.7 L380.2,224.5 L382.2,224.3 L384.2,224.1 L386.2,223.9 L388.2,223.8 L390.3,223.6 L392.3,223.4 L394.3,223.1 L396.3,222.9 L398.3,222.7 L400.3,222.5 L402.3,222.3 L404.3,222.0 L406.3,221.8 L408.3,221.5 L410.3,221.3 L412.3,221.1 L414.3,220.8 L416.3,220.6 L418.3,220.3 L420.3,220.1 L422.3,219.8 L424.3,219.6 L426.3,219.4 L428.3,219.1 L430.3,218.9 L432.3,218.6 L434.3,218.4 L436.3,218.2 L438.3,218.0 L440.4,217.8 L442.4,217.6 L444.4,217.3 L446.4,217.2 L448.4,217.0 L450.4,216.9 L452.4,216.8 L454.4,216.7 L456.4,216.6 L458.4,216.5 L460.4,216.4 L462.4,216.3 L464.4,216.3 L466.4,216.2 L468.4,216.1 L470.4,216.1 L472.4,216.1 L474.4,216.0 L476.4,216.0 L478.4,216.0 L480.4,216.0 L482.4,216.0 L484.4,216.1 L486.4,216.1 L488.4,216.2 L490.4,216.2 L492.5,216.3 L494.5,216.4 L496.5,216.5 L498.5,216.6 L500.5,216.7 L502.5,216.8 L504.5,217.0 L506.5,217.1 L508.5,217.3 L510.5,217.5 L512.5,217.6 L514.5,217.8 L516.5,218.1" fill="none" stroke="#0a0a0a" stroke-width="1.5" stroke-linejoin="round" stroke-linecap="butt" />
<path d="M57.6,361.0 L59.6,358.8 L61.6,356.7 L63.6,354.6 L65.6,352.5 L67.6,350.4 L69.6,348.4 L71.6,346.4 L73.6,344.4 L75.6,342.5 L77.6,340.5 L79.6,338.7 L81.6,336.8 L83.6,335.0 L85.6,333.2 L87.6,331.4 L89.6,329.7 L91.6,328.0 L93.6,326.3 L95.6,324.6 L97.6,323.0 L99.6,321.4 L101.6,319.8 L103.6,318.2 L105.6,316.7 L107.6,315.1 L109.6,313.6 L111.7,312.2 L113.7,310.7 L115.7,309.3 L117.7,307.9 L119.7,306.5 L121.7,305.1 L123.7,303.7 L125.7,302.4 L127.7,301.1 L129.7,299.8 L131.7,298.5 L133.7,297.3 L135.7,296.0 L137.7,294.8 L139.7,293.6 L141.7,292.4 L143.7,291.3 L145.7,290.1 L147.7,289.0 L149.7,287.9 L151.7,286.8 L153.7,285.7 L155.7,284.6 L157.7,283.6 L159.7,282.5 L161.7,281.5 L163.7,280.5 L165.7,279.5 L167.7,278.5 L169.7,277.4 L171.7,276.4 L173.7,275.4 L175.7,274.3 L177.7,273.3 L179.7,272.3 L181.7,271.4 L183.7,270.4 L185.7,269.4 L187.7,268.5 L189.7,267.6 L191.7,266.7 L193.7,265.7 L195.7,264.9 L197.7,264.0 L199.7,263.1 L201.7,262.3 L203.7,261.4 L205.7,260.6 L207.7,259.8 L209.7,259.0 L211.7,258.2 L213.7,257.4 L215.7,256.6 L217.7,255.8 L219.8,255.1 L221.8,254.4 L223.8,253.6 L225.8,252.9 L227.8,252.2 L229.8,251.5 L231.8,250.8 L233.8,250.2 L235.8,249.5 L237.8,248.8 L239.8,248.2 L241.8,247.6 L243.8,246.9 L245.8,246.3 L247.8,245.7 L249.8,245.1 L251.8,244.5 L253.8,244.0 L255.8,243.4 L257.8,242.9 L259.8,242.3 L261.8,241.8 L263.8,241.3 L265.8,240.7 L267.8,240.2 L269.8,239.7 L271.8,239.2 L273.8,238.8 L275.8,238.3 L277.8,237.8 L279.8,237.4 L281.8,236.9 L283.8,236.5 L285.8,236.1 L287.8,235.6 L289.8,235.2 L291.8,234.8 L293.8,234.4 L295.8,234.1 L297.8,233.7 L299.8,233.3 L301.8,232.9 L303.8,232.6 L305.8,232.2 L307.8,231.9 L309.8,231.6 L311.8,231.3 L313.8,230.9 L315.8,230.6 L317.8,230.3 L319.8,230.0 L321.8,229.8 L323.8,229.5 L325.9,229.2 L327.9,228.9 L329.9,228.7 L331.9,228.4 L333.9,228.2 L335.9,228.0 L337.9,227.8 L339.9,227.6 L341.9,227.4 L343.9,227.3 L345.9,227.1 L347.9,227.0 L349.9,226.8 L351.9,226.7 L353.9,226.6 L355.9,226.5 L357.9,226.4 L359.9,226.4 L361.9,226.3 L363.9,226.2 L365.9,226.2 L367.9,226.1 L369.9,226.1 L371.9,226.0 L373.9,226.0 L375.9,225.9 L377.9,225.9 L379.9,225.8 L381.9,225.8 L383.9,225.7 L385.9,225.7 L387.9,225.7 L389.9,225.6 L391.9,225.5 L393.9,225.5 L395.9,225.4 L397.9,225.4 L399.9,225.3 L401.9,225.3 L403.9,225.2 L405.9,225.2 L407.9,225.2 L409.9,225.2 L411.9,225.1 L413.9,225.1 L415.9,225.1 L417.9,225.1 L419.9,225.1 L421.9,225.1 L423.9,225.1 L425.9,225.1 L427.9,225.1 L429.9,225.2 L431.9,225.2 L434.0,225.2 L436.0,225.2 L438.0,225.3 L440.0,225.3 L442.0,225.4 L444.0,225.4 L446.0,225.5 L448.0,225.5 L450.0,225.6 L452.0,225.6 L454.0,225.7 L456.0,225.8 L458.0,225.9 L460.0,225.9 L462.0,226.0 L464.0,226.1 L466.0,226.2 L468.0,226.3 L470.0,226.4 L472.0,226.5 L474.0,226.6 L476.0,226.7 L478.0,226.8 L480.0,226.9 L482.0,227.0 L484.0,227.1 L486.0,227.3 L488.0,227.4 L490.0,227.5 L492.0,227.6 L494.0,227.8 L496.0,227.9 L498.0,228.0 L500.0,228.2 L502.0,228.3 L504.0,228.5 L506.0,228.6 L508.0,228.8 L510.0,228.9 L512.0,229.1 L514.0,229.2 L516.0,229.4 L518.0,229.6 L520.0,229.7 L522.0,229.9 L524.0,230.1 L526.0,230.3 L528.0,230.5 L530.0,230.7 L532.0,230.9 L534.0,231.1 L536.0,231.3 L538.0,231.5 L540.0,231.7 L542.1,231.9 L544.1,232.1 L546.1,232.4 L548.1,232.6 L550.1,232.8 L552.1,233.0 L554.1,233.2 L556.1,233.4 L558.1,233.6 L560.1,233.7 L562.1,233.9 L564.1,234.0 L566.1,234.1 L568.1,234.3 L570.1,234.4 L572.1,234.5 L574.1,234.6 L576.1,234.7 L578.1,234.9 L580.1,235.0 L582.1,235.2 L584.1,235.3 L586.1,235.5 L588.1,235.7 L590.1,235.9 L592.1,236.1 L594.1,236.4" fill="none" stroke="#0a0a0a" stroke-width="1.5" stroke-linejoin="round" stroke-linecap="butt" />
<path d="M57.6,360.0 L59.6,357.6 L61.6,355.4 L63.6,353.1 L65.6,350.9 L67.6,348.7 L69.6,346.5 L71.6,344.4 L73.6,342.3 L75.6,340.2 L77.6,338.2 L79.6,336.2 L81.6,334.2 L83.6,332.2 L85.6,330.3 L87.6,328.4 L89.6,326.5 L91.6,324.6 L93.6,322.8 L95.6,321.0 L97.6,319.2 L99.6,317.5 L101.6,315.7 L103.6,314.0 L105.6,312.3 L107.5,310.7 L109.5,309.1 L111.5,307.4 L113.5,305.9 L115.5,304.3 L117.5,302.8 L119.5,301.3 L121.5,299.8 L123.5,298.3 L125.5,296.8 L127.5,295.4 L129.5,294.0 L131.5,292.6 L133.5,291.3 L135.5,289.9 L137.5,288.6 L139.5,287.3 L141.5,286.0 L143.5,284.8 L145.5,283.5 L147.5,282.3 L149.5,281.1 L151.5,279.9 L153.5,278.8 L155.5,277.6 L157.5,276.5 L159.5,275.4 L161.5,274.3 L163.5,273.2 L165.5,272.2 L167.5,271.1 L169.5,270.1 L171.5,269.1 L173.5,268.0 L175.5,267.1 L177.5,266.1 L179.5,265.1 L181.5,264.1 L183.5,263.2 L185.5,262.2 L187.5,261.3 L189.5,260.4 L191.5,259.5 L193.5,258.6 L195.5,257.7 L197.5,256.8 L199.5,255.9 L201.5,255.0 L203.5,254.2 L205.5,253.3 L207.4,252.5 L209.4,251.6 L211.4,250.8 L213.4,250.0 L215.4,249.2 L217.4,248.4 L219.4,247.6 L221.4,246.8 L223.4,246.0 L225.4,245.2 L227.4,244.5 L229.4,243.7 L231.4,243.0 L233.4,242.2 L235.4,241.5 L237.4,240.8 L239.4,240.1 L241.4,239.4 L243.4,238.7 L245.4,238.0 L247.4,237.3 L249.4,236.6 L251.4,235.9 L253.4,235.3 L255.4,234.6 L257.4,234.0 L259.4,233.3 L261.4,232.7 L263.4,232.1 L265.4,231.5 L267.4,230.9 L269.4,230.3 L271.4,229.7 L273.4,229.1 L275.4,228.6 L277.4,228.0 L279.4,227.4 L281.4,226.9 L283.4,226.4 L285.4,225.8 L287.4,225.3 L289.4,224.8 L291.4,224.3 L293.4,223.8 L295.4,223.3 L297.4,222.9 L299.4,222.4 L301.4,221.9 L303.4,221.5 L305.4,221.0 L307.3,220.6 L309.3,220.2 L311.3,219.8 L313.3,219.4 L315.3,219.0 L317.3,218.6 L319.3,218.2 L321.3,217.9 L323.3,217.5 L325.3,217.2 L327.3,216.8 L329.3,216.5 L331.3,216.2 L333.3,215.9 L335.3,215.6 L337.3,215.3 L339.3,215.0 L341.3,214.8 L343.3,214.5 L345.3,214.3 L347.3,214.0 L349.3,213.8 L351.3,213.6 L353.3,213.4 L355.3,213.2 L357.3,213.0 L359.3,212.8 L361.3,212.7 L363.3,212.5 L365.3,212.3 L367.3,212.2 L369.3,212.1 L371.3,212.0 L373.3,211.9 L375.3,211.8 L377.3,211.7 L379.3,211.6 L381.3,211.5 L383.3,211.4 L385.3,211.4 L387.3,211.3 L389.3,211.3 L391.3,211.3 L393.3,211.2 L395.3,211.2 L397.3,211.2 L399.3,211.2 L401.3,211.2 L403.3,211.3 L405.3,211.3 L407.2,211.3 L409.2,211.4 L411.2,211.4 L413.2,211.5 L415.2,211.5 L417.2,211.6 L419.2,211.7 L421.2,211.8 L423.2,211.9 L425.2,212.0 L427.2,212.1 L429.2,212.2 L431.2,212.3 L433.2,212.5 L435.2,212.6 L437.2,212.7 L439.2,212.9 L441.2,213.1 L443.2,213.2 L445.2,213.4 L447.2,213.6 L449.2,213.7 L451.2,213.9 L453.2,214.1 L455.2,214.3 L457.2,214.6 L459.2,214.8 L461.2,215.0 L463.2,215.2 L465.2,215.5 L467.2,215.7 L469.2,215.9 L471.2,216.2 L473.2,216.5 L475.2,216.7 L477.2,217.0 L479.2,217.3 L481.2,217.5 L483.2,217.8 L485.2,218.1 L487.2,218.4 L489.2,218.7 L491.2,219.0 L493.2,219.3 L495.2,219.7 L497.2,220.0 L499.2,220.3 L501.2,220.7 L503.2,221.0 L505.2,221.4 L507.1,221.7 L509.1,222.1 L511.1,222.4 L513.1,222.8 L515.1,223.2 L517.1,223.6 L519.1,223.9 L521.1,224.3 L523.1,224.7 L525.1,225.1 L527.1,225.6 L529.1,226.0 L531.1,226.4 L533.1,226.8 L535.1,227.3 L537.1,227.7 L539.1,228.2 L541.1,228.6 L543.1,229.1 L545.1,229.6 L547.1,230.0 L549.1,230.5 L551.1,231.0 L553.1,231.5 L555.1,232.0 L557.1,232.5 L559.1,233.1 L561.1,233.6 L563.1,234.1 L565.1,234.7 L567.1,235.2 L569.1,235.8 L571.1,236.3 L573.1,236.9 L575.1,237.5 L577.1,238.1 L579.1,238.7 L581.1,239.3 L583.1,239.9 L585.1,240.5 L587.1,241.1 L589.1,241.8 L591.1,242.4 L593.1,243.1 L595.1,243.7 L597.1,244.4 L599.1,245.1 L601.1,245.7 L603.1,246.4 L605.1,247.2 L607.0,247.9 L609.0,248.7 L611.0,249.5 L613.0,250.3 L615.0,251.1 L617.0,251.9 L619.0,252.8 L621.0,253.6 L623.0,254.5 L625.0,255.4 L627.0,256.3 L629.0,257.2 L631.0,258.1 L633.0,259.0 L635.0,259.9 L637.0,260.8 L639.0,261.7 L641.0,262.6 L643.0,263.5 L645.0,264.5 L647.0,265.4 L649.0,266.3 L651.0,267.2 L653.0,268.1 L655.0,269.0" fill="none" stroke="#0a0a0a" stroke-width="1.3" stroke-linejoin="round" stroke-linecap="butt" />
<path d="M49.2,373.1 L51.2,371.0 L53.2,369.0 L55.2,366.9 L57.2,364.9 L59.2,362.9 L61.2,360.9 L63.2,358.9 L65.2,356.9 L67.2,355.0 L69.2,353.1 L71.1,351.2 L73.1,349.3 L75.1,347.5 L77.1,345.6 L79.1,343.8 L81.1,342.0 L83.1,340.3 L85.1,338.5 L87.1,336.8 L89.1,335.1 L91.1,333.4 L93.1,331.7 L95.1,330.0 L97.1,328.4 L99.1,326.8 L101.1,325.2 L103.1,323.6 L105.1,322.1 L107.1,320.6 L109.1,319.1 L111.1,317.6 L113.0,316.1 L115.0,314.6 L117.0,313.2 L119.0,311.8 L121.0,310.4 L123.0,309.0 L125.0,307.7 L127.0,306.3 L129.0,305.0 L131.0,303.7 L133.0,302.4 L135.0,301.2 L137.0,299.9 L139.0,298.7 L141.0,297.5 L143.0,296.3 L145.0,295.2 L147.0,294.0 L149.0,292.9 L151.0,291.8 L153.0,290.7 L154.9,289.6 L156.9,288.6 L158.9,287.6 L160.9,286.5 L162.9,285.6 L164.9,284.6 L166.9,283.6 L168.9,282.7 L170.9,281.8 L172.9,280.9 L174.9,280.0 L176.9,279.1 L178.9,278.3 L180.9,277.4 L182.9,276.6 L184.9,275.8 L186.9,275.0 L188.9,274.3 L190.9,273.5 L192.9,272.8 L194.9,272.1 L196.8,271.4 L198.8,270.8 L200.8,270.1 L202.8,269.5 L204.8,268.9 L206.8,268.3 L208.8,267.7 L210.8,267.1 L212.8,266.6 L214.8,266.0 L216.8,265.5 L218.8,265.0 L220.8,264.6 L222.8,264.1 L224.8,263.7 L226.8,263.2 L228.8,262.8 L230.8,262.4 L232.8,262.1 L234.8,261.7 L236.8,261.4 L238.7,261.0 L240.7,260.7 L242.7,260.5 L244.7,260.2 L246.7,259.9 L248.7,259.7 L250.7,259.5 L252.7,259.3 L254.7,259.1 L256.7,258.9 L258.7,258.7 L260.7,258.6 L262.7,258.5 L264.7,258.4 L266.7,258.3 L268.7,258.2 L270.7,258.1 L272.7,258.1 L274.7,258.1 L276.7,258.1 L278.6,258.1 L280.6,258.1 L282.6,258.1 L284.6,258.2 L286.6,258.3 L288.6,258.3 L290.6,258.4 L292.6,258.6 L294.6,258.7 L296.6,258.8 L298.6,259.0 L300.6,259.2 L302.6,259.4 L304.6,259.6 L306.6,259.8 L308.6,260.0 L310.6,260.3 L312.6,260.6 L314.6,260.9 L316.6,261.2 L318.6,261.5 L320.5,261.8 L322.5,262.2 L324.5,262.5 L326.5,262.9 L328.5,263.3 L330.5,263.7 L332.5,264.1 L334.5,264.6 L336.5,265.0 L338.5,265.5 L340.5,265.9 L342.5,266.4 L344.5,267.0 L346.5,267.5 L348.5,268.0 L350.5,268.6 L352.5,269.1 L354.5,269.7 L356.5,270.3 L358.5,270.9 L360.5,271.5 L362.4,272.2 L364.4,272.8 L366.4,273.5 L368.4,274.2 L370.4,274.9 L372.4,275.6 L374.4,276.3 L376.4,277.0 L378.4,277.8 L380.4,278.6 L382.4,279.3 L384.4,280.1 L386.4,280.9 L388.4,281.7 L390.4,282.6 L392.4,283.4 L394.4,284.3 L396.4,285.2 L398.4,286.0 L400.4,286.9 L402.4,287.9 L404.3,288.8 L406.3,289.7 L408.3,290.7 L410.3,291.6 L412.3,292.6 L414.3,293.6 L416.3,294.6 L418.3,295.6 L420.3,296.7 L422.3,297.7 L424.3,298.8" fill="none" stroke="#0a0a0a" stroke-width="1.6" stroke-linejoin="round" stroke-linecap="butt" />
<path d="M49.2,373.6 L51.2,371.5 L53.2,369.4 L55.2,367.4 L57.2,365.4 L59.2,363.4 L61.2,361.4 L63.2,359.5 L65.2,357.6 L67.2,355.7 L69.2,353.9 L71.2,352.0 L73.2,350.2 L75.2,348.5 L77.2,346.7 L79.2,345.0 L81.2,343.3 L83.2,341.6 L85.2,339.9 L87.2,338.3 L89.2,336.7 L91.2,335.1 L93.2,333.6 L95.2,332.0 L97.2,330.5 L99.2,329.1 L101.2,327.6 L103.2,326.2 L105.2,324.7 L107.2,323.3 L109.2,322.0 L111.2,320.6 L113.2,319.3 L115.2,318.0 L117.2,316.7 L119.2,315.5 L121.2,314.2 L123.2,313.0 L125.2,311.8 L127.2,310.6 L129.2,309.5 L131.2,308.4 L133.2,307.3 L135.2,306.2 L137.2,305.1 L139.2,304.1 L141.2,303.0 L143.2,302.0 L145.2,301.0 L147.2,300.1 L149.2,299.1 L151.2,298.2 L153.2,297.3 L155.2,296.4 L157.2,295.5 L159.2,294.7 L161.2,293.8 L163.2,293.0 L165.2,292.2 L167.2,291.4 L169.2,290.7 L171.2,289.9 L173.2,289.2 L175.2,288.5 L177.2,287.8 L179.2,287.1 L181.2,286.5 L183.2,285.8 L185.2,285.2 L187.2,284.6 L189.2,284.0 L191.2,283.4 L193.2,282.9 L195.2,282.3 L197.2,281.8 L199.2,281.3 L201.2,280.8 L203.2,280.3 L205.2,279.9 L207.2,279.4 L209.2,279.0 L211.2,278.6 L213.2,278.2 L215.2,277.8 L217.2,277.4 L219.2,277.0 L221.2,276.7 L223.2,276.3 L225.2,276.0 L227.2,275.7 L229.2,275.4 L231.3,275.1 L233.3,274.9 L235.3,274.6 L237.3,274.4 L239.3,274.2 L241.3,274.0 L243.3,273.8 L245.3,273.6 L247.3,273.4 L249.3,273.3 L251.3,273.1 L253.3,273.0 L255.3,272.9 L257.3,272.8 L259.3,272.7 L261.3,272.7 L263.3,272.6 L265.3,272.6 L267.3,272.5 L269.3,272.5 L271.3,272.5 L273.3,272.5 L275.3,272.6 L277.3,272.6 L279.3,272.7 L281.3,272.7 L283.3,272.8 L285.3,272.9 L287.3,273.0 L289.3,273.2 L291.3,273.3 L293.3,273.5 L295.3,273.6 L297.3,273.8 L299.3,274.0 L301.3,274.2 L303.3,274.4 L305.3,274.6 L307.3,274.9 L309.3,275.2 L311.3,275.4 L313.3,275.7 L315.3,276.0 L317.3,276.3 L319.3,276.7 L321.3,277.0 L323.3,277.4 L325.3,277.7 L327.3,278.1 L329.3,278.5 L331.3,278.9 L333.3,279.3 L335.3,279.8 L337.3,280.2 L339.3,280.7 L341.3,281.1 L343.3,281.6 L345.3,282.1 L347.3,282.6 L349.3,283.2 L351.3,283.7 L353.3,284.3 L355.3,284.8 L357.3,285.4 L359.3,286.0 L361.3,286.6 L363.3,287.2 L365.3,287.9 L367.3,288.5 L369.3,289.2 L371.3,289.8 L373.3,290.5 L375.3,291.2 L377.3,291.9 L379.3,292.6 L381.3,293.4 L383.3,294.1 L385.3,294.9 L387.3,295.7 L389.3,296.4 L391.3,297.2 L393.3,298.1 L395.3,298.9 L397.3,299.7 L399.3,300.6 L401.3,301.4 L403.3,302.3 L405.3,303.2 L407.3,304.1 L409.3,305.0" fill="none" stroke="#0a0a0a" stroke-width="0.9" stroke-linejoin="round" stroke-linecap="butt" />
<path d="M263.8,230.2 L265.8,229.6 L267.8,228.9 L269.8,228.3 L271.8,227.7 L273.8,227.1 L275.8,226.5 L277.8,225.9 L279.8,225.3 L281.8,224.8 L283.9,224.2 L285.9,223.6 L287.9,223.1 L289.9,222.6 L291.9,222.0 L293.9,221.5 L295.9,221.0 L297.9,220.5 L299.9,220.0 L301.9,219.5 L303.9,219.1 L305.9,218.6 L307.9,218.1 L309.9,217.7 L311.9,217.3 L313.9,216.8 L315.9,216.4 L317.9,216.0 L319.9,215.6 L321.9,215.2 L323.9,214.8 L325.9,214.4 L327.9,214.1 L329.9,213.7 L331.9,213.4 L333.9,213.0 L335.9,212.7 L337.9,212.4 L339.9,212.1 L341.9,211.8 L343.9,211.5 L345.9,211.2 L347.9,210.9 L349.9,210.7 L351.9,210.4 L353.9,210.1 L355.9,209.9 L357.9,209.7 L359.9,209.5 L361.9,209.2 L363.9,209.0 L365.9,208.8 L367.9,208.7 L369.9,208.5 L371.9,208.3 L374.0,208.2 L376.0,208.0 L378.0,207.9 L380.0,207.7 L382.0,207.6 L384.0,207.5 L386.0,207.4 L388.0,207.3 L390.0,207.2 L392.0,207.2 L394.0,207.1 L396.0,207.0 L398.0,207.0 L400.0,206.9 L402.0,206.9 L404.0,206.9 L406.0,206.9 L408.0,206.9 L410.0,206.9 L412.0,206.9 L414.0,206.9 L416.0,206.9 L418.0,207.0 L420.0,207.0 L422.0,207.1 L424.0,207.2 L426.0,207.2 L428.0,207.3 L430.0,207.4 L432.0,207.5 L434.0,207.6 L436.0,207.7 L438.0,207.8 L440.0,208.0 L442.0,208.1 L444.0,208.2 L446.0,208.4 L448.0,208.6 L450.0,208.7 L452.0,208.9 L454.0,209.1 L456.0,209.3 L458.0,209.5 L460.0,209.7 L462.1,209.9 L464.1,210.1 L466.1,210.3 L468.1,210.5 L470.1,210.8 L472.1,211.0 L474.1,211.3 L476.1,211.5 L478.1,211.8 L480.1,212.1 L482.1,212.3 L484.1,212.6 L486.1,212.9 L488.1,213.2 L490.1,213.5 L492.1,213.8 L494.1,214.1 L496.1,214.5 L498.1,214.8 L500.1,215.1 L502.1,215.5 L504.1,215.8 L506.1,216.2 L508.1,216.5 L510.1,216.9 L512.1,217.2 L514.1,217.6 L516.1,218.0 L518.1,218.4 L520.1,218.8 L522.1,219.2 L524.1,219.6 L526.1,220.0 L528.1,220.4 L530.1,220.8 L532.1,221.2 L534.1,221.6 L536.1,222.1 L538.1,222.5 L540.1,222.9 L542.1,223.4 L544.1,223.8 L546.1,224.3 L548.1,224.7 L550.1,225.2 L552.2,225.6 L554.2,226.1 L556.2,226.6 L558.2,227.1 L560.2,227.5 L562.2,228.0 L564.2,228.5 L566.2,229.0 L568.2,229.5 L570.2,230.0 L572.2,230.5 L574.2,231.0 L576.2,231.6 L578.2,232.1 L580.2,232.6 L582.2,233.1 L584.2,233.7 L586.2,234.2 L588.2,234.8 L590.2,235.3 L592.2,235.9 L594.2,236.4 L596.2,237.0 L598.2,237.6 L600.2,238.1 L602.2,238.7 L604.2,239.3 L606.2,239.9 L608.2,240.5 L610.2,241.0 L612.2,241.6 L614.2,242.2 L616.2,242.9 L618.2,243.5 L620.2,244.1 L622.2,244.7 L624.2,245.3 L626.2,246.0 L628.2,246.6 L630.2,247.2 L632.2,247.9 L634.2,248.5 L636.2,249.2 L638.2,249.8 L640.2,250.5 L642.3,251.2 L644.3,251.8 L646.3,252.5 L648.3,253.2 L650.3,253.9 L652.3,254.5 L654.3,255.2 L656.3,255.9 L658.3,256.6 L660.3,257.3 L662.3,258.1 L664.3,258.8 L666.3,259.5 L668.3,260.2 L670.3,260.9 L672.3,261.7 L674.3,262.4 L676.3,263.2 L678.3,263.9 L680.3,264.7 L682.3,265.4 L684.3,266.2 L686.3,266.9" fill="none" stroke="#0a0a0a" stroke-width="2.9" stroke-linejoin="round" stroke-linecap="butt" />
<path d="M35.8,494.3 L135.8,439.7 L264.4,439.7" fill="none" stroke="#1b3a5c" stroke-width="1.5" stroke-linejoin="round" stroke-linecap="butt" />
<path d="M264.4,439.7 L686.3,439.7" fill="none" stroke="#1b3a5c" stroke-width="2.5" stroke-linejoin="round" stroke-linecap="butt" />
<path d="M35.8,522.4 L37.8,521.8 L39.8,521.3 L41.8,520.7 L43.8,520.2 L45.8,519.6 L47.8,519.0 L49.8,518.4 L51.8,517.9 L53.8,517.3 L55.9,516.7 L57.9,516.1 L59.9,515.5 L61.9,514.9 L63.9,514.2 L65.9,513.6 L67.9,513.0 L69.9,512.4 L71.9,511.7 L73.9,511.1 L75.9,510.5 L77.9,509.8 L79.9,509.2 L81.9,508.5 L83.9,507.8 L85.9,507.2 L87.9,506.5 L89.9,505.8 L91.9,505.2 L94.0,504.5 L96.0,503.8 L98.0,503.1 L100.0,502.4 L102.0,501.7 L104.0,501.0 L106.0,500.3 L108.0,499.6 L110.0,498.9 L112.0,498.2 L114.0,497.5 L116.0,496.8 L118.0,496.0 L120.0,495.3 L122.0,494.6 L124.0,493.9 L126.0,493.1 L128.0,492.4 L130.0,491.7 L132.1,490.9 L134.1,490.2 L136.1,489.4 L138.1,488.7 L140.1,487.9 L142.1,487.2 L144.1,486.4 L146.1,485.7 L148.1,484.9 L150.1,484.1 L152.1,483.4 L154.1,482.6 L156.1,481.9 L158.1,481.1 L160.1,480.3 L162.1,479.5 L164.1,478.8 L166.1,478.0 L168.1,477.2 L170.2,476.4 L172.2,475.7 L174.2,474.9 L176.2,474.1 L178.2,473.3 L180.2,472.5 L182.2,471.8 L184.2,471.0 L186.2,470.2 L188.2,469.4 L190.2,468.6 L192.2,467.8 L194.2,467.0 L196.2,466.3 L198.2,465.5 L200.2,464.7 L202.2,463.9 L204.2,463.1 L206.2,462.3 L208.3,461.5 L210.3,460.7 L212.3,459.9 L214.3,459.2 L216.3,458.4 L218.3,457.6 L220.3,456.8 L222.3,456.0 L224.3,455.2 L226.3,454.4 L228.3,453.6 L230.3,452.9 L232.3,452.1 L234.3,451.3 L236.3,450.5 L238.3,449.7 L240.3,448.9 L242.3,448.2 L244.3,447.4 L246.4,446.6 L248.4,445.8 L250.4,445.1 L252.4,444.3 L254.4,443.5 L256.4,442.7 L258.4,442.0 L260.4,441.2 L262.4,440.4 L264.4,439.7" fill="none" stroke="#1b3a5c" stroke-width="1.5" stroke-linejoin="round" stroke-linecap="butt" />
<path d="M35.8,564.0 L37.8,563.5 L39.8,563.0 L41.8,562.5 L43.8,561.9 L45.8,561.4 L47.8,560.8 L49.8,560.2 L51.8,559.6 L53.8,559.0 L55.9,558.4 L57.9,557.8 L59.9,557.1 L61.9,556.4 L63.9,555.8 L65.9,555.1 L67.9,554.4 L69.9,553.6 L71.9,552.9 L73.9,552.2 L75.9,551.4 L77.9,550.6 L79.9,549.9 L81.9,549.1 L83.9,548.3 L85.9,547.4 L87.9,546.6 L89.9,545.8 L91.9,544.9 L94.0,544.0 L96.0,543.1 L98.0,542.3 L100.0,541.4 L102.0,540.4 L104.0,539.5 L106.0,538.6 L108.0,537.6 L110.0,536.7 L112.0,535.7 L114.0,534.7 L116.0,533.7 L118.0,532.7 L120.0,531.7 L122.0,530.7 L124.0,529.7 L126.0,528.6 L128.0,527.6 L130.0,526.5 L132.1,525.4 L134.1,524.4 L136.1,523.3 L138.1,522.2 L140.1,521.1 L142.1,520.0 L144.1,518.8 L146.1,517.7 L148.1,516.6 L150.1,515.4 L152.1,514.2 L154.1,513.1 L156.1,511.9 L158.1,510.7 L160.1,509.5 L162.1,508.3 L164.1,507.1 L166.1,505.9 L168.1,504.7 L170.2,503.5 L172.2,502.2 L174.2,501.0 L176.2,499.7 L178.2,498.5 L180.2,497.2 L182.2,495.9 L184.2,494.7 L186.2,493.4 L188.2,492.1 L190.2,490.8 L192.2,489.5 L194.2,488.2 L196.2,486.9 L198.2,485.6 L200.2,484.2 L202.2,482.9 L204.2,481.6 L206.2,480.2 L208.3,478.9 L210.3,477.5 L212.3,476.2 L214.3,474.8 L216.3,473.5 L218.3,472.1 L220.3,470.7 L222.3,469.3 L224.3,468.0 L226.3,466.6 L228.3,465.2 L230.3,463.8 L232.3,462.4 L234.3,461.0 L236.3,459.6 L238.3,458.2 L240.3,456.8 L242.3,455.4 L244.3,454.0 L246.4,452.5 L248.4,451.1 L250.4,449.7 L252.4,448.3 L254.4,446.8 L256.4,445.4 L258.4,444.0 L260.4,442.6 L262.4,441.1 L264.4,439.7" fill="none" stroke="#1b3a5c" stroke-width="1.9" stroke-linejoin="round" stroke-linecap="butt" />
<path d="M35.8,548.6 L37.8,548.2 L39.8,547.8 L41.8,547.4 L43.8,547.0 L45.8,546.6 L47.8,546.2 L49.8,545.8 L51.8,545.3 L53.8,544.9 L55.8,544.5 L57.8,544.1 L59.8,543.7 L61.8,543.2 L63.8,542.8 L65.8,542.4 L67.8,541.9 L69.8,541.5 L71.8,541.0 L73.8,540.6 L75.8,540.2 L77.8,539.7 L79.8,539.3 L81.8,538.8 L83.8,538.4 L85.8,537.9 L87.8,537.5 L89.8,537.0 L91.8,536.5 L93.8,536.1 L95.8,535.6 L97.8,535.2 L99.8,534.7 L101.8,534.2 L103.8,533.7 L105.8,533.3 L107.8,532.8 L109.8,532.3 L111.8,531.8 L113.8,531.4 L115.8,530.9 L117.8,530.4 L119.8,529.9 L121.8,529.4 L123.8,528.9 L125.8,528.4 L127.8,527.9 L129.8,527.4 L131.9,526.9 L133.9,526.4 L135.9,525.9 L137.9,525.4 L139.9,524.9 L141.9,524.4 L143.9,523.9 L145.9,523.4 L147.9,522.9 L149.9,522.4 L151.9,521.9 L153.9,521.3 L155.9,520.8 L157.9,520.3 L159.9,519.8 L161.9,519.2 L163.9,518.7 L165.9,518.2 L167.9,517.7 L169.9,517.1 L171.9,516.6 L173.9,516.1 L175.9,515.5 L177.9,515.0 L179.9,514.4 L181.9,513.9 L183.9,513.4 L185.9,512.8 L187.9,512.3 L189.9,511.7 L191.9,511.2 L193.9,510.6 L195.9,510.1 L197.9,509.5 L199.9,508.9 L201.9,508.4 L203.9,507.8 L205.9,507.3 L207.9,506.7 L209.9,506.1 L211.9,505.6 L213.9,505.0 L215.9,504.4 L217.9,503.9 L219.9,503.3 L221.9,502.7 L223.9,502.2 L225.9,501.6 L227.9,501.0 L229.9,500.4 L231.9,499.8 L233.9,499.3 L235.9,498.7 L237.9,498.1 L239.9,497.5 L241.9,496.9 L243.9,496.3 L245.9,495.8 L247.9,495.2 L249.9,494.6 L251.9,494.0 L253.9,493.4 L255.9,492.8 L257.9,492.2 L259.9,491.6 L261.9,491.0 L263.9,490.4 L265.9,489.8 L267.9,489.2 L269.9,488.6 L271.9,488.0 L273.9,487.4 L275.9,486.8 L277.9,486.1 L279.9,485.5 L281.9,484.9 L283.9,484.3 L285.9,483.7 L287.9,483.1 L289.9,482.4 L291.9,481.8 L293.9,481.2 L295.9,480.6 L297.9,479.9 L299.9,479.3 L301.9,478.7 L303.9,478.0 L305.9,477.4 L307.9,476.8 L309.9,476.1 L311.9,475.5 L313.9,474.9 L315.9,474.2 L317.9,473.6 L319.9,472.9 L322.0,472.3 L324.0,471.6 L326.0,471.0 L328.0,470.3 L330.0,469.7 L332.0,469.0 L334.0,468.4 L336.0,467.7 L338.0,467.0 L340.0,466.4 L342.0,465.7 L344.0,465.0 L346.0,464.4 L348.0,463.7 L350.0,463.0 L352.0,462.4 L354.0,461.7 L356.0,461.0 L358.0,460.3 L360.0,459.6 L362.0,459.0 L364.0,458.3 L366.0,457.6 L368.0,456.9 L370.0,456.2 L372.0,455.5 L374.0,454.8 L376.0,454.1 L378.0,453.4 L380.0,452.7 L382.0,452.0 L384.0,451.3 L386.0,450.6 L388.0,449.9 L390.0,449.2 L392.0,448.5 L394.0,447.7 L396.0,447.0 L398.0,446.3 L400.0,445.6 L402.0,444.9 L404.0,444.1 L406.0,443.4 L408.0,442.7 L410.0,441.9 L412.0,441.2 L414.0,440.5 L416.0,439.7" fill="none" stroke="#1b3a5c" stroke-width="1.5" stroke-linejoin="round" stroke-linecap="butt" />
<path d="M35.8,553.4 L37.8,552.9 L39.8,552.4 L41.8,551.9 L43.8,551.4 L45.8,550.9 L47.8,550.3 L49.8,549.8 L51.8,549.3 L53.8,548.8 L55.8,548.2 L57.8,547.7 L59.8,547.2 L61.8,546.7 L63.8,546.1 L65.8,545.6 L67.8,545.1 L69.8,544.5 L71.8,544.0 L73.8,543.4 L75.8,542.9 L77.8,542.3 L79.8,541.8 L81.8,541.3 L83.8,540.7 L85.8,540.2 L87.8,539.6 L89.8,539.1 L91.8,538.5 L93.8,538.0 L95.8,537.4 L97.8,536.9 L99.8,536.3 L101.8,535.8 L103.8,535.2 L105.8,534.7 L107.8,534.1 L109.8,533.6 L111.8,533.0 L113.7,532.5 L115.7,531.9 L117.7,531.4 L119.7,530.8 L121.7,530.3 L123.7,529.8 L125.7,529.2 L127.7,528.7 L129.7,528.1 L131.7,527.6 L133.7,527.0 L135.7,526.5 L137.7,526.0 L139.7,525.4 L141.7,524.9 L143.7,524.3 L145.7,523.8 L147.7,523.3 L149.7,522.7 L151.7,522.2 L153.7,521.7 L155.7,521.2 L157.7,520.6 L159.7,520.1 L161.7,519.6 L163.7,519.1 L165.7,518.6 L167.7,518.0 L169.7,517.5 L171.7,517.0 L173.7,516.5 L175.7,516.0 L177.7,515.5 L179.7,515.0 L181.7,514.5 L183.7,514.0 L185.7,513.5 L187.7,513.0 L189.7,512.5 L191.7,512.0 L193.7,511.6 L195.7,511.1 L197.7,510.6 L199.7,510.1 L201.7,509.7 L203.7,509.2 L205.7,508.7 L207.7,508.3 L209.7,507.8 L211.7,507.4 L213.7,506.9 L215.7,506.4 L217.7,506.0 L219.7,505.6 L221.7,505.1 L223.7,504.7 L225.7,504.2 L227.7,503.8 L229.7,503.4 L231.7,502.9 L233.7,502.5 L235.7,502.1 L237.7,501.6 L239.7,501.2 L241.7,500.8 L243.7,500.4 L245.7,500.0 L247.7,499.6 L249.7,499.2 L251.7,498.7 L253.7,498.3 L255.7,497.9 L257.7,497.5 L259.7,497.1 L261.7,496.7 L263.7,496.4 L265.7,496.0 L267.7,495.6 L269.6,495.2 L271.6,494.8 L273.6,494.4 L275.6,494.0 L277.6,493.7 L279.6,493.3 L281.6,492.9 L283.6,492.5 L285.6,492.2 L287.6,491.8 L289.6,491.4 L291.6,491.1 L293.6,490.7 L295.6,490.4 L297.6,490.0 L299.6,489.6 L301.6,489.3 L303.6,488.9 L305.6,488.6 L307.6,488.2 L309.6,487.9 L311.6,487.5 L313.6,487.2 L315.6,486.9 L317.6,486.5 L319.6,486.2 L321.6,485.8 L323.6,485.5 L325.6,485.2 L327.6,484.8 L329.6,484.5 L331.6,484.2 L333.6,483.9 L335.6,483.5 L337.6,483.2 L339.6,482.9 L341.6,482.6 L343.6,482.2 L345.6,481.9 L347.6,481.6 L349.6,481.3 L351.6,481.0 L353.6,480.7 L355.6,480.4 L357.6,480.0 L359.6,479.7 L361.6,479.4 L363.6,479.1 L365.6,478.8 L367.6,478.5 L369.6,478.2 L371.6,477.9 L373.6,477.6 L375.6,477.3 L377.6,477.0 L379.6,476.7 L381.6,476.5 L383.6,476.2 L385.6,475.9 L387.6,475.6 L389.6,475.3 L391.6,475.0 L393.6,474.7 L395.6,474.5 L397.6,474.2 L399.6,473.9 L401.6,473.6 L403.6,473.4 L405.6,473.1 L407.6,472.8 L409.6,472.6 L411.6,472.3 L413.6,472.0 L415.6,471.8 L417.6,471.5 L419.6,471.3 L421.6,471.0 L423.5,470.8 L425.5,470.5 L427.5,470.3 L429.5,470.0 L431.5,469.8 L433.5,469.5 L435.5,469.3 L437.5,469.1 L439.5,468.8 L441.5,468.6 L443.5,468.4 L445.5,468.1 L447.5,467.9 L449.5,467.7 L451.5,467.5 L453.5,467.2 L455.5,467.0 L457.5,466.8 L459.5,466.6 L461.5,466.4 L463.5,466.2 L465.5,466.0 L467.5,465.8 L469.5,465.6 L471.5,465.4 L473.5,465.2 L475.5,465.0 L477.5,464.8 L479.5,464.6 L481.5,464.4 L483.5,464.2 L485.5,464.0 L487.5,463.8 L489.5,463.7 L491.5,463.5 L493.5,463.3 L495.5,463.1 L497.5,463.0 L499.5,462.8 L501.5,462.6 L503.5,462.5 L505.5,462.3 L507.5,462.2 L509.5,462.0 L511.5,461.9 L513.5,461.7 L515.5,461.6 L517.5,461.4 L519.5,461.3 L521.5,461.2 L523.5,461.0 L525.5,460.9 L527.5,460.8 L529.5,460.6 L531.5,460.5 L533.5,460.4 L535.5,460.3 L537.5,460.2 L539.5,460.0 L541.5,459.9 L543.5,459.8 L545.5,459.7 L547.5,459.6 L549.5,459.5 L551.5,459.4 L553.5,459.4 L555.5,459.3 L557.5,459.2 L559.5,459.1 L561.5,459.0 L563.5,458.9 L565.5,458.9 L567.5,458.8 L569.5,458.7 L571.5,458.7 L573.5,458.6 L575.5,458.6 L577.5,458.5 L579.4,458.4 L581.4,458.4 L583.4,458.4 L585.4,458.3 L587.4,458.3 L589.4,458.2 L591.4,458.2 L593.4,458.2 L595.4,458.2 L597.4,458.1 L599.4,458.1 L601.4,458.1 L603.4,458.1 L605.4,458.1 L607.4,458.1 L609.4,458.1 L611.4,458.1 L613.4,458.1 L615.4,458.1 L617.4,458.1 L619.4,458.1 L621.4,458.1 L623.4,458.2 L625.4,458.2 L627.4,458.2 L629.4,458.3 L631.4,458.3 L633.4,458.3 L635.4,458.4 L637.4,458.4 L639.4,458.5 L641.4,458.5 L643.4,458.6 L645.4,458.6 L647.4,458.7 L649.4,458.8 L651.4,458.9 L653.4,458.9 L655.4,459.0" fill="none" stroke="#1b3a5c" stroke-width="1.5" stroke-linejoin="round" stroke-linecap="butt" />
<path d="M35.8,571.0 L37.8,570.8 L39.8,570.6 L41.8,570.4 L43.8,570.2 L45.8,570.0 L47.8,569.7 L49.8,569.5 L51.8,569.2 L53.8,568.9 L55.8,568.7 L57.8,568.4 L59.8,568.0 L61.8,567.7 L63.8,567.4 L65.8,567.0 L67.8,566.7 L69.8,566.3 L71.8,565.9 L73.8,565.5 L75.8,565.1 L77.8,564.7 L79.8,564.3 L81.8,563.8 L83.8,563.4 L85.8,562.9 L87.8,562.4 L89.8,561.9 L91.8,561.4 L93.8,560.9 L95.8,560.4 L97.8,559.9 L99.8,559.4 L101.8,558.8 L103.8,558.3 L105.8,557.7 L107.8,557.1 L109.8,556.6 L111.8,556.0 L113.8,555.4 L115.8,554.8 L117.8,554.2 L119.8,553.5 L121.8,552.9 L123.8,552.3 L125.8,551.6 L127.8,551.0 L129.8,550.3 L131.8,549.6 L133.8,548.9 L135.8,548.2 L137.8,547.5 L139.8,546.8 L141.8,546.1 L143.8,545.4 L145.8,544.7 L147.8,544.0 L149.8,543.2 L151.8,542.5 L153.8,541.7 L155.8,541.0 L157.8,540.2 L159.8,539.4 L161.8,538.7 L163.8,537.9 L165.8,537.1 L167.8,536.3 L169.8,535.5 L171.8,534.7 L173.8,533.9 L175.8,533.1 L177.8,532.3 L179.8,531.5 L181.8,530.6 L183.8,529.8 L185.8,529.0 L187.8,528.1 L189.8,527.3 L191.8,526.4 L193.8,525.6 L195.8,524.7 L197.8,523.9 L199.8,523.0 L201.9,522.1 L203.9,521.3 L205.9,520.4 L207.9,519.5 L209.9,518.6 L211.9,517.8 L213.9,516.9 L215.9,516.0 L217.9,515.1 L219.9,514.2 L221.9,513.3 L223.9,512.4 L225.9,511.5 L227.9,510.6 L229.9,509.7 L231.9,508.8 L233.9,507.9 L235.9,507.0 L237.9,506.1 L239.9,505.2 L241.9,504.2 L243.9,503.3 L245.9,502.4 L247.9,501.4 L249.9,500.5 L251.9,499.6 L253.9,498.6 L255.9,497.7 L257.9,496.7 L259.9,495.8 L261.9,494.8 L263.9,493.9 L265.9,492.9 L267.9,491.9 L269.9,490.9 L271.9,490.0 L273.9,489.0 L275.9,488.0 L277.9,487.0 L279.9,486.0 L281.9,485.0 L283.9,484.0 L285.9,483.0 L287.9,482.0 L289.9,481.0 L291.9,480.0 L293.9,478.9 L295.9,477.9 L297.9,476.9 L299.9,475.8 L301.9,474.8 L303.9,473.7 L305.9,472.7 L307.9,471.6 L309.9,470.6 L311.9,469.5 L313.9,468.4 L315.9,467.3 L317.9,466.3 L319.9,465.2 L321.9,464.1 L323.9,463.0 L325.9,461.9 L327.9,460.8 L329.9,459.6 L331.9,458.5 L333.9,457.4 L335.9,456.3 L337.9,455.1 L339.9,454.0 L341.9,452.8 L343.9,451.7 L345.9,450.5 L347.9,449.3 L349.9,448.1 L351.9,447.0 L353.9,445.8 L355.9,444.6 L357.9,443.4 L359.9,442.2 L361.9,441.0 L363.9,439.7" fill="none" stroke="#1b3a5c" stroke-width="1.5" stroke-linejoin="round" stroke-linecap="butt" />
<path d="M35.8,573.2 L37.8,573.0 L39.8,572.9 L41.8,572.7 L43.8,572.6 L45.8,572.4 L47.8,572.3 L49.8,572.1 L51.8,571.9 L53.8,571.8 L55.8,571.6 L57.8,571.4 L59.8,571.2 L61.8,571.0 L63.8,570.8 L65.8,570.6 L67.8,570.4 L69.8,570.2 L71.8,570.0 L73.8,569.8 L75.8,569.6 L77.8,569.3 L79.8,569.1 L81.8,568.9 L83.8,568.6 L85.8,568.4 L87.8,568.2 L89.8,567.9 L91.8,567.6 L93.8,567.4 L95.8,567.1 L97.8,566.9 L99.8,566.6 L101.8,566.3 L103.8,566.0 L105.8,565.7 L107.8,565.4 L109.7,565.1 L111.7,564.8 L113.7,564.5 L115.7,564.2 L117.7,563.9 L119.7,563.6 L121.7,563.3 L123.7,563.0 L125.7,562.6 L127.7,562.3 L129.7,562.0 L131.7,561.6 L133.7,561.3 L135.7,560.9 L137.7,560.6 L139.7,560.2 L141.7,559.8 L143.7,559.5 L145.7,559.1 L147.7,558.7 L149.7,558.3 L151.7,557.9 L153.7,557.6 L155.7,557.2 L157.7,556.8 L159.7,556.4 L161.7,556.0 L163.7,555.5 L165.7,555.1 L167.7,554.7 L169.7,554.3 L171.7,553.9 L173.7,553.4 L175.7,553.0 L177.7,552.5 L179.7,552.1 L181.7,551.6 L183.7,551.2 L185.7,550.7 L187.7,550.3 L189.7,549.8 L191.7,549.3 L193.7,548.9 L195.7,548.4 L197.7,547.9 L199.7,547.4 L201.7,546.9 L203.7,546.4 L205.7,545.9 L207.7,545.4 L209.7,544.9 L211.7,544.4 L213.7,543.9 L215.7,543.3 L217.7,542.8 L219.7,542.3 L221.7,541.7 L223.7,541.2 L225.7,540.7 L227.7,540.1 L229.7,539.6 L231.7,539.0 L233.7,538.4 L235.7,537.9 L237.7,537.3 L239.7,536.7 L241.7,536.1 L243.7,535.6 L245.7,535.0 L247.7,534.4 L249.7,533.8 L251.7,533.2 L253.7,532.6 L255.6,532.0 L257.6,531.4 L259.6,530.8 L261.6,530.1 L263.6,529.5 L265.6,528.9 L267.6,528.2 L269.6,527.6 L271.6,527.0 L273.6,526.3 L275.6,525.7 L277.6,525.0 L279.6,524.4 L281.6,523.7 L283.6,523.0 L285.6,522.4 L287.6,521.7 L289.6,521.0 L291.6,520.3 L293.6,519.6 L295.6,518.9 L297.6,518.2 L299.6,517.5 L301.6,516.8 L303.6,516.1 L305.6,515.4 L307.6,514.7 L309.6,514.0 L311.6,513.3 L313.6,512.5 L315.6,511.8 L317.6,511.1 L319.6,510.3 L321.6,509.6 L323.6,508.8 L325.6,508.1 L327.6,507.3 L329.6,506.5 L331.6,505.8 L333.6,505.0 L335.6,504.2 L337.6,503.4 L339.6,502.7 L341.6,501.9 L343.6,501.1 L345.6,500.3 L347.6,499.5 L349.6,498.7 L351.6,497.9 L353.6,497.1 L355.6,496.2 L357.6,495.4 L359.6,494.6 L361.6,493.8 L363.6,492.9 L365.6,492.1 L367.6,491.3 L369.6,490.4 L371.6,489.6 L373.6,488.7 L375.6,487.9 L377.6,487.0 L379.6,486.1 L381.6,485.3 L383.6,484.4 L385.6,483.5 L387.6,482.6 L389.6,481.7 L391.6,480.8 L393.6,479.9 L395.6,479.0 L397.6,478.1 L399.6,477.2 L401.6,476.3 L403.5,475.4 L405.5,474.5 L407.5,473.6 L409.5,472.6 L411.5,471.7 L413.5,470.8 L415.5,469.8 L417.5,468.9 L419.5,467.9 L421.5,467.0 L423.5,466.0 L425.5,465.1 L427.5,464.1 L429.5,463.1 L431.5,462.2 L433.5,461.2 L435.5,460.2 L437.5,459.2 L439.5,458.2 L441.5,457.2 L443.5,456.2 L445.5,455.2 L447.5,454.2 L449.5,453.2 L451.5,452.2 L453.5,451.2 L455.5,450.2 L457.5,449.2 L459.5,448.1 L461.5,447.1 L463.5,446.1 L465.5,445.0 L467.5,444.0 L469.5,442.9 L471.5,441.9 L473.5,440.8 L475.5,439.8" fill="none" stroke="#1b3a5c" stroke-width="1.5" stroke-linejoin="round" stroke-linecap="butt" />
<path d="M35.8,575.2 L37.8,575.0 L39.8,574.7 L41.8,574.5 L43.8,574.3 L45.8,574.0 L47.8,573.8 L49.8,573.6 L51.8,573.4 L53.8,573.2 L55.8,572.9 L57.8,572.7 L59.8,572.5 L61.8,572.3 L63.8,572.1 L65.8,571.9 L67.8,571.7 L69.8,571.5 L71.8,571.3 L73.8,571.0 L75.8,570.8 L77.8,570.6 L79.8,570.4 L81.8,570.2 L83.8,570.0 L85.9,569.8 L87.9,569.6 L89.9,569.4 L91.9,569.2 L93.9,569.0 L95.9,568.8 L97.9,568.6 L99.9,568.4 L101.9,568.2 L103.9,568.0 L105.9,567.7 L107.9,567.5 L109.9,567.3 L111.9,567.1 L113.9,566.9 L115.9,566.7 L117.9,566.4 L119.9,566.2 L121.9,566.0 L123.9,565.7 L125.9,565.5 L127.9,565.3 L129.9,565.0 L131.9,564.8 L133.9,564.5 L135.9,564.3 L137.9,564.0 L139.9,563.8 L141.9,563.5 L143.9,563.3 L145.9,563.0 L147.9,562.7 L149.9,562.4 L151.9,562.2 L153.9,561.9 L155.9,561.6 L157.9,561.3 L159.9,561.0 L161.9,560.7 L163.9,560.4 L165.9,560.1 L167.9,559.7 L169.9,559.4 L171.9,559.1 L173.9,558.7 L175.9,558.4 L177.9,558.0 L179.9,557.7 L182.0,557.3 L184.0,556.9 L186.0,556.6 L188.0,556.2 L190.0,555.8 L192.0,555.4 L194.0,555.0 L196.0,554.6 L198.0,554.2 L200.0,553.7 L202.0,553.3 L204.0,552.9 L206.0,552.4 L208.0,552.0 L210.0,551.5 L212.0,551.1 L214.0,550.6 L216.0,550.2 L218.0,549.7 L220.0,549.2 L222.0,548.7 L224.0,548.2 L226.0,547.8 L228.0,547.3 L230.0,546.8 L232.0,546.3 L234.0,545.8 L236.0,545.3 L238.0,544.8 L240.0,544.3 L242.0,543.8 L244.0,543.3 L246.0,542.7 L248.0,542.2 L250.0,541.7 L252.0,541.2 L254.0,540.7 L256.0,540.2 L258.0,539.7 L260.0,539.1 L262.0,538.6 L264.0,538.1 L266.0,537.6 L268.0,537.1 L270.0,536.5 L272.0,536.0 L274.0,535.5 L276.0,535.0 L278.1,534.5 L280.1,533.9 L282.1,533.4 L284.1,532.8 L286.1,532.3 L288.1,531.8 L290.1,531.2 L292.1,530.7 L294.1,530.1 L296.1,529.5 L298.1,529.0 L300.1,528.4 L302.1,527.8 L304.1,527.2 L306.1,526.6 L308.1,526.0 L310.1,525.4 L312.1,524.8 L314.1,524.1 L316.1,523.5 L318.1,522.9 L320.1,522.2 L322.1,521.5 L324.1,520.9 L326.1,520.2 L328.1,519.5 L330.1,518.8 L332.1,518.1 L334.1,517.4 L336.1,516.7 L338.1,515.9 L340.1,515.2 L342.1,514.5 L344.1,513.7 L346.1,513.0 L348.1,512.2 L350.1,511.5 L352.1,510.7 L354.1,510.0 L356.1,509.2 L358.1,508.4 L360.1,507.6 L362.1,506.9 L364.1,506.1 L366.1,505.3 L368.1,504.5 L370.1,503.7 L372.1,502.9 L374.1,502.1 L376.2,501.3 L378.2,500.6 L380.2,499.8 L382.2,499.0 L384.2,498.2 L386.2,497.4 L388.2,496.6 L390.2,495.8 L392.2,495.0 L394.2,494.2 L396.2,493.4 L398.2,492.7 L400.2,491.9 L402.2,491.1 L404.2,490.3 L406.2,489.5 L408.2,488.8 L410.2,488.0 L412.2,487.2 L414.2,486.4 L416.2,485.6 L418.2,484.9 L420.2,484.1 L422.2,483.3 L424.2,482.5 L426.2,481.7 L428.2,480.9 L430.2,480.1 L432.2,479.3 L434.2,478.5 L436.2,477.7 L438.2,476.9 L440.2,476.1 L442.2,475.3 L444.2,474.5 L446.2,473.7 L448.2,472.9 L450.2,472.1 L452.2,471.2 L454.2,470.4 L456.2,469.6 L458.2,468.7 L460.2,467.9 L462.2,467.0 L464.2,466.2 L466.2,465.3 L468.2,464.4 L470.2,463.6 L472.3,462.7 L474.3,461.8 L476.3,460.9 L478.3,460.0 L480.3,459.1 L482.3,458.2 L484.3,457.3 L486.3,456.4 L488.3,455.5 L490.3,454.5 L492.3,453.6 L494.3,452.6 L496.3,451.7 L498.3,450.7 L500.3,449.8 L502.3,448.8 L504.3,447.8 L506.3,446.8 L508.3,445.8 L510.3,444.8 L512.3,443.8 L514.3,442.8 L516.3,441.8 L518.3,440.7 L520.3,439.7" fill="none" stroke="#1b3a5c" stroke-width="1.5" stroke-linejoin="round" stroke-linecap="butt" />
<path d="M35.8,570.5 L37.8,570.3 L39.8,570.0 L41.8,569.8 L43.8,569.5 L45.8,569.3 L47.8,569.0 L49.8,568.8 L51.8,568.5 L53.8,568.3 L55.8,568.0 L57.8,567.8 L59.8,567.5 L61.8,567.3 L63.8,567.0 L65.8,566.8 L67.8,566.5 L69.8,566.3 L71.7,566.0 L73.7,565.8 L75.7,565.5 L77.7,565.2 L79.7,565.0 L81.7,564.7 L83.7,564.5 L85.7,564.2 L87.7,564.0 L89.7,563.7 L91.7,563.4 L93.7,563.2 L95.7,562.9 L97.7,562.6 L99.7,562.4 L101.7,562.1 L103.7,561.9 L105.7,561.6 L107.7,561.3 L109.7,561.1 L111.7,560.8 L113.7,560.5 L115.7,560.2 L117.7,560.0 L119.7,559.7 L121.7,559.4 L123.7,559.2 L125.7,558.9 L127.7,558.6 L129.7,558.3 L131.7,558.0 L133.7,557.8 L135.7,557.5 L137.7,557.2 L139.7,556.9 L141.6,556.6 L143.6,556.4 L145.6,556.1 L147.6,555.8 L149.6,555.5 L151.6,555.2 L153.6,554.9 L155.6,554.6 L157.6,554.3 L159.6,554.0 L161.6,553.7 L163.6,553.5 L165.6,553.2 L167.6,552.9 L169.6,552.6 L171.6,552.3 L173.6,552.0 L175.6,551.7 L177.6,551.3 L179.6,551.0 L181.6,550.7 L183.6,550.4 L185.6,550.1 L187.6,549.8 L189.6,549.5 L191.6,549.2 L193.6,548.9 L195.6,548.5 L197.6,548.2 L199.6,547.9 L201.6,547.6 L203.6,547.3 L205.6,546.9 L207.6,546.6 L209.6,546.3 L211.5,546.0 L213.5,545.6 L215.5,545.3 L217.5,545.0 L219.5,544.6 L221.5,544.3 L223.5,544.0 L225.5,543.6 L227.5,543.3 L229.5,542.9 L231.5,542.6 L233.5,542.2 L235.5,541.9 L237.5,541.5 L239.5,541.2 L241.5,540.8 L243.5,540.5 L245.5,540.1 L247.5,539.8 L249.5,539.4 L251.5,539.0 L253.5,538.7 L255.5,538.3 L257.5,537.9 L259.5,537.6 L261.5,537.2 L263.5,536.8 L265.5,536.5 L267.5,536.1 L269.5,535.7 L271.5,535.3 L273.5,534.9 L275.5,534.6 L277.5,534.2 L279.5,533.8 L281.4,533.4 L283.4,533.0 L285.4,532.6 L287.4,532.2 L289.4,531.8 L291.4,531.4 L293.4,531.0 L295.4,530.6 L297.4,530.2 L299.4,529.8 L301.4,529.4 L303.4,529.0 L305.4,528.5 L307.4,528.1 L309.4,527.7 L311.4,527.3 L313.4,526.9 L315.4,526.4 L317.4,526.0 L319.4,525.6 L321.4,525.2 L323.4,524.7 L325.4,524.3 L327.4,523.8 L329.4,523.4 L331.4,523.0 L333.4,522.5 L335.4,522.1 L337.4,521.6 L339.4,521.2 L341.4,520.7 L343.4,520.2 L345.4,519.8 L347.4,519.3 L349.3,518.8 L351.3,518.4 L353.3,517.9 L355.3,517.4 L357.3,517.0 L359.3,516.5 L361.3,516.0 L363.3,515.5 L365.3,515.0 L367.3,514.5 L369.3,514.1 L371.3,513.6 L373.3,513.1 L375.3,512.6 L377.3,512.1 L379.3,511.6 L381.3,511.1 L383.3,510.5 L385.3,510.0 L387.3,509.5 L389.3,509.0 L391.3,508.5 L393.3,508.0 L395.3,507.4 L397.3,506.9 L399.3,506.4 L401.3,505.8 L403.3,505.3 L405.3,504.8 L407.3,504.2 L409.3,503.7 L411.3,503.1 L413.3,502.6 L415.3,502.0 L417.3,501.5 L419.2,500.9 L421.2,500.4 L423.2,499.8 L425.2,499.2 L427.2,498.7 L429.2,498.1 L431.2,497.5 L433.2,496.9 L435.2,496.3 L437.2,495.8 L439.2,495.2 L441.2,494.6 L443.2,494.0 L445.2,493.4 L447.2,492.8 L449.2,492.2 L451.2,491.6 L453.2,491.0 L455.2,490.4 L457.2,489.7 L459.2,489.1 L461.2,488.5 L463.2,487.9 L465.2,487.2 L467.2,486.6 L469.2,486.0 L471.2,485.3 L473.2,484.7 L475.2,484.0 L477.2,483.4 L479.2,482.7 L481.2,482.1 L483.2,481.4 L485.2,480.8 L487.2,480.1 L489.1,479.4 L491.1,478.8 L493.1,478.1 L495.1,477.4 L497.1,476.7 L499.1,476.0 L501.1,475.4 L503.1,474.7 L505.1,474.0 L507.1,473.3 L509.1,472.6 L511.1,471.9 L513.1,471.1 L515.1,470.4 L517.1,469.7 L519.1,469.0 L521.1,468.3 L523.1,467.5 L525.1,466.8 L527.1,466.1 L529.1,465.3 L531.1,464.6 L533.1,463.9 L535.1,463.1 L537.1,462.4 L539.1,461.6 L541.1,460.8 L543.1,460.1 L545.1,459.3 L547.1,458.5 L549.1,457.8 L551.1,457.0 L553.1,456.2 L555.1,455.4 L557.1,454.6 L559.0,453.8 L561.0,453.0 L563.0,452.2 L565.0,451.4 L567.0,450.6 L569.0,449.8 L571.0,449.0 L573.0,448.2 L575.0,447.3 L577.0,446.5 L579.0,445.7 L581.0,444.8 L583.0,444.0 L585.0,443.2 L587.0,442.3 L589.0,441.5 L591.0,440.6 L593.0,439.7" fill="none" stroke="#1b3a5c" stroke-width="1.5" stroke-linejoin="round" stroke-linecap="butt" />
<path d="M35.8,572.4 L37.8,572.1 L39.8,571.8 L41.8,571.5 L43.8,571.3 L45.8,571.0 L47.8,570.7 L49.8,570.5 L51.8,570.2 L53.8,569.9 L55.8,569.7 L57.8,569.4 L59.7,569.2 L61.7,568.9 L63.7,568.7 L65.7,568.5 L67.7,568.2 L69.7,568.0 L71.7,567.8 L73.7,567.6 L75.7,567.4 L77.7,567.2 L79.7,567.0 L81.7,566.8 L83.7,566.5 L85.7,566.3 L87.7,566.1 L89.7,566.0 L91.7,565.8 L93.7,565.6 L95.7,565.4 L97.7,565.2 L99.7,565.1 L101.7,564.9 L103.7,564.7 L105.7,564.6 L107.6,564.5 L109.6,564.3 L111.6,564.2 L113.6,564.1 L115.6,564.0 L117.6,563.8 L119.6,563.7 L121.6,563.6 L123.6,563.5 L125.6,563.4 L127.6,563.3 L129.6,563.2 L131.6,563.1 L133.6,563.0 L135.6,562.9 L137.6,562.8 L139.6,562.8 L141.6,562.7 L143.6,562.6 L145.6,562.5 L147.6,562.5 L149.6,562.4 L151.6,562.4 L153.5,562.3 L155.5,562.2 L157.5,562.2 L159.5,562.1 L161.5,562.1 L163.5,562.1 L165.5,562.0 L167.5,562.0 L169.5,562.0 L171.5,562.0 L173.5,562.0 L175.5,562.0 L177.5,561.9 L179.5,561.9 L181.5,561.9 L183.5,561.9 L185.5,561.9 L187.5,561.9 L189.5,561.9 L191.5,561.9 L193.5,561.9 L195.5,561.9 L197.5,561.9 L199.4,561.9 L201.4,561.9 L203.4,561.8 L205.4,561.8 L207.4,561.8 L209.4,561.8 L211.4,561.8 L213.4,561.8 L215.4,561.8 L217.4,561.8 L219.4,561.8 L221.4,561.8 L223.4,561.8 L225.4,561.8 L227.4,561.8 L229.4,561.8 L231.4,561.8 L233.4,561.8 L235.4,561.8 L237.4,561.8 L239.4,561.8 L241.4,561.8 L243.4,561.8 L245.4,561.8 L247.3,561.8 L249.3,561.8 L251.3,561.8 L253.3,561.8 L255.3,561.8 L257.3,561.8 L259.3,561.8 L261.3,561.8 L263.3,561.8 L265.3,561.8 L267.3,561.8 L269.3,561.8 L271.3,561.8 L273.3,561.8 L275.3,561.8 L277.3,561.8 L279.3,561.8 L281.3,561.8 L283.3,561.8 L285.3,561.7 L287.3,561.7 L289.3,561.7 L291.3,561.7 L293.2,561.7 L295.2,561.7 L297.2,561.7 L299.2,561.7 L301.2,561.7 L303.2,561.7 L305.2,561.7 L307.2,561.7 L309.2,561.7 L311.2,561.7 L313.2,561.7 L315.2,561.7 L317.2,561.7 L319.2,561.7 L321.2,561.7 L323.2,561.7 L325.2,561.7 L327.2,561.7 L329.2,561.7 L331.2,561.7 L333.2,561.7 L335.2,561.7 L337.2,561.7 L339.1,561.7 L341.1,561.7 L343.1,561.7 L345.1,561.7 L347.1,561.7 L349.1,561.7 L351.1,561.7 L353.1,561.7 L355.1,561.7 L357.1,561.7 L359.1,561.7 L361.1,561.7 L363.1,561.7 L365.1,561.7 L367.1,561.7 L369.1,561.7 L371.1,561.7 L373.1,561.7 L375.1,561.7 L377.1,561.7 L379.1,561.7 L381.1,561.7 L383.1,561.7 L385.1,561.7 L387.0,561.7 L389.0,561.7 L391.0,561.7 L393.0,561.7 L395.0,561.7 L397.0,561.7 L399.0,561.7 L401.0,561.7 L403.0,561.7 L405.0,561.7 L407.0,561.7 L409.0,561.7" fill="none" stroke="#93a3b4" stroke-width="1.2" stroke-linejoin="round" stroke-linecap="butt" />
<path d="M35.8,582.3 L37.8,582.1 L39.8,581.8 L41.8,581.5 L43.8,581.3 L45.8,581.0 L47.8,580.7 L49.8,580.5 L51.8,580.2 L53.8,580.0 L55.8,579.7 L57.7,579.4 L59.7,579.2 L61.7,578.9 L63.7,578.7 L65.7,578.4 L67.7,578.2 L69.7,578.0 L71.7,577.7 L73.7,577.5 L75.7,577.2 L77.7,577.0 L79.7,576.8 L81.7,576.5 L83.7,576.3 L85.7,576.1 L87.7,575.8 L89.7,575.6 L91.7,575.4 L93.7,575.2 L95.7,574.9 L97.7,574.7 L99.7,574.5 L101.6,574.3 L103.6,574.1 L105.6,573.8 L107.6,573.6 L109.6,573.4 L111.6,573.2 L113.6,573.0 L115.6,572.8 L117.6,572.6 L119.6,572.4 L121.6,572.2 L123.6,572.0 L125.6,571.8 L127.6,571.6 L129.6,571.4 L131.6,571.2 L133.6,571.0 L135.6,570.8 L137.6,570.6 L139.6,570.4 L141.6,570.2 L143.6,570.1 L145.5,569.9 L147.5,569.7 L149.5,569.5 L151.5,569.3 L153.5,569.2 L155.5,569.0 L157.5,568.8 L159.5,568.6 L161.5,568.5 L163.5,568.3 L165.5,568.1 L167.5,568.0 L169.5,567.8 L171.5,567.6 L173.5,567.5 L175.5,567.3 L177.5,567.1 L179.5,567.0 L181.5,566.8 L183.5,566.7 L185.5,566.5 L187.4,566.4 L189.4,566.2 L191.4,566.1 L193.4,565.9 L195.4,565.8 L197.4,565.6 L199.4,565.5 L201.4,565.3 L203.4,565.2 L205.4,565.1 L207.4,564.9 L209.4,564.8 L211.4,564.7 L213.4,564.5 L215.4,564.4 L217.4,564.3 L219.4,564.1 L221.4,564.0 L223.4,563.9 L225.4,563.8 L227.4,563.6 L229.4,563.5 L231.3,563.4 L233.3,563.3 L235.3,563.2 L237.3,563.0 L239.3,562.9 L241.3,562.8 L243.3,562.7 L245.3,562.6 L247.3,562.5 L249.3,562.4 L251.3,562.3 L253.3,562.2 L255.3,562.1 L257.3,562.0 L259.3,561.9 L261.3,561.8 L263.3,561.7 L265.3,561.6 L267.3,561.5 L269.3,561.4 L271.3,561.3 L273.3,561.2 L275.2,561.1 L277.2,561.0 L279.2,560.9 L281.2,560.9 L283.2,560.8 L285.2,560.7 L287.2,560.6 L289.2,560.5 L291.2,560.5 L293.2,560.4 L295.2,560.3 L297.2,560.2 L299.2,560.2 L301.2,560.1 L303.2,560.0 L305.2,560.0 L307.2,559.9 L309.2,559.8 L311.2,559.8 L313.2,559.7 L315.2,559.6 L317.1,559.6 L319.1,559.5 L321.1,559.5 L323.1,559.4 L325.1,559.3 L327.1,559.3 L329.1,559.2 L331.1,559.2 L333.1,559.1 L335.1,559.1 L337.1,559.0 L339.1,559.0 L341.1,558.9 L343.1,558.9 L345.1,558.9 L347.1,558.8 L349.1,558.8 L351.1,558.7 L353.1,558.7 L355.1,558.7 L357.1,558.6 L359.1,558.6 L361.0,558.6 L363.0,558.5 L365.0,558.5 L367.0,558.5 L369.0,558.5 L371.0,558.4 L373.0,558.4 L375.0,558.4 L377.0,558.4 L379.0,558.3 L381.0,558.3 L383.0,558.3 L385.0,558.3 L387.0,558.3 L389.0,558.3 L391.0,558.2 L393.0,558.2 L395.0,558.2 L397.0,558.2 L399.0,558.2 L401.0,558.2 L403.0,558.2 L404.9,558.2 L406.9,558.2 L408.9,558.2 L410.9,558.2 L412.9,558.2 L414.9,558.2 L416.9,558.2 L418.9,558.2 L420.9,558.2 L422.9,558.2 L424.9,558.2" fill="none" stroke="#1b3a5c" stroke-width="1.5" stroke-linejoin="round" stroke-linecap="butt" />
<path d="M35.2,6.5 H751.9" stroke="#6a6a6a" stroke-width="1.1" fill="none"/>
<path d="M36,6.0 V388.4" stroke="#5f5f5f" stroke-width="1.7" fill="none"/>
<path d="M751.2,6.0 V388.4" stroke="#5e5e5e" stroke-width="1.4" fill="none"/>
<path d="M32.5,387.6 H754.4" stroke="#5f5f5f" stroke-width="1.6" fill="none"/>
<path d="M35.6,406.0 H751.2 V608.7 H32.5" stroke="#8f8f8f" stroke-width="1.2" fill="none"/>
<path d="M36,405.5 V609.4" stroke="#5f5f5f" stroke-width="1.7" fill="none"/>
<path d="M32.3,349.4 H36 M751.2,349.4 h3.4 M32.3,311.3 H36 M751.2,311.3 h3.4 M32.3,273.1 H36 M751.2,273.1 h3.4 M32.3,234.9 H36 M751.2,234.9 h3.4 M32.3,196.8 H36 M751.2,196.8 h3.4 M32.3,158.6 H36 M751.2,158.6 h3.4 M32.3,120.4 H36 M751.2,120.4 h3.4 M32.3,82.3 H36 M751.2,82.3 h3.4 M32.3,44.1 H36 M35.6,387.6 v3 M61.2,387.6 v3 M86.8,387.6 v3 M112.4,387.6 v3 M138.0,387.6 v3 M163.6,387.6 v3 M189.1,387.6 v3 M214.7,387.6 v3 M240.3,387.6 v3 M265.9,387.6 v3 M291.5,387.6 v3 M317.1,387.6 v3 M342.7,387.6 v3 M368.3,387.6 v3 M393.9,387.6 v3 M419.5,387.6 v3 M445.0,387.6 v3 M470.6,387.6 v3 M496.2,387.6 v3 M521.8,387.6 v3 M547.4,387.6 v3 M573.0,387.6 v3 M598.6,387.6 v3 M624.2,387.6 v3 M649.8,387.6 v3 M675.4,387.6 v3 M700.9,387.6 v3 M726.5,387.6 v3 M32.3,608.7 H36 M32.3,589.7 H36 M32.3,570.6 H36 M32.3,551.6 H36 M32.3,532.5 H36 M32.3,513.5 H36 M32.3,494.4 H36 M32.3,475.4 H36 M32.3,456.3 H36 M32.3,437.2 H36 M32.3,418.2 H36" stroke="#5f5f5f" stroke-width="1.2" fill="none"/>
<rect x="625.5" y="6.5" width="125.7" height="15.7" fill="#ffffff" stroke="#3a3a3a" stroke-width="1.1"/>
<text transform="translate(629.3,17.3) scale(1,0.90)">ALPHA3 25-40 180, 50Hz</text>
<text transform="translate(581.2,35.8) scale(1,0.90)">Перекачиваемая жидкость = Вода</text>
<text transform="translate(581.2,48.3) scale(1,0.90)">Темп. жидкости = 60 °C</text>
<text transform="translate(581.2,60.6) scale(1,0.90)">Плотность = 983.2 кг/м³</text>
<text transform="translate(24.0,16.2) scale(1,0.90)" text-anchor="middle">H</text>
<text transform="translate(24.3,28.3) scale(1,0.90)" text-anchor="middle">[м]</text>
<text transform="translate(28.0,390.8) scale(1,0.90)" text-anchor="end">0.0</text>
<text transform="translate(28.0,352.6) scale(1,0.90)" text-anchor="end">0.5</text>
<text transform="translate(28.0,314.5) scale(1,0.90)" text-anchor="end">1.0</text>
<text transform="translate(28.0,276.3) scale(1,0.90)" text-anchor="end">1.5</text>
<text transform="translate(28.0,238.1) scale(1,0.90)" text-anchor="end">2.0</text>
<text transform="translate(28.0,200.0) scale(1,0.90)" text-anchor="end">2.5</text>
<text transform="translate(28.0,161.8) scale(1,0.90)" text-anchor="end">3.0</text>
<text transform="translate(28.0,123.6) scale(1,0.90)" text-anchor="end">3.5</text>
<text transform="translate(28.0,85.5) scale(1,0.90)" text-anchor="end">4.0</text>
<text transform="translate(28.0,47.3) scale(1,0.90)" text-anchor="end">4.5</text>
<text transform="translate(35.3,400.8) scale(1,0.90)" text-anchor="middle">0</text>
<text transform="translate(60.9,400.8) scale(1,0.90)" text-anchor="middle">0,1</text>
<text transform="translate(86.5,400.8) scale(1,0.90)" text-anchor="middle">0,2</text>
<text transform="translate(112.1,400.8) scale(1,0.90)" text-anchor="middle">0,3</text>
<text transform="translate(137.7,400.8) scale(1,0.90)" text-anchor="middle">0,4</text>
<text transform="translate(163.2,400.8) scale(1,0.90)" text-anchor="middle">0,5</text>
<text transform="translate(188.8,400.8) scale(1,0.90)" text-anchor="middle">0,6</text>
<text transform="translate(214.4,400.8) scale(1,0.90)" text-anchor="middle">0,7</text>
<text transform="translate(240.0,400.8) scale(1,0.90)" text-anchor="middle">0,8</text>
<text transform="translate(265.6,400.8) scale(1,0.90)" text-anchor="middle">0,9</text>
<text transform="translate(291.2,400.8) scale(1,0.90)" text-anchor="middle">1,0</text>
<text transform="translate(316.8,400.8) scale(1,0.90)" text-anchor="middle">1,1</text>
<text transform="translate(342.4,400.8) scale(1,0.90)" text-anchor="middle">1,2</text>
<text transform="translate(368.0,400.8) scale(1,0.90)" text-anchor="middle">1,3</text>
<text transform="translate(393.6,400.8) scale(1,0.90)" text-anchor="middle">1,4</text>
<text transform="translate(419.2,400.8) scale(1,0.90)" text-anchor="middle">1,5</text>
<text transform="translate(444.7,400.8) scale(1,0.90)" text-anchor="middle">1,6</text>
<text transform="translate(470.3,400.8) scale(1,0.90)" text-anchor="middle">1,7</text>
<text transform="translate(495.9,400.8) scale(1,0.90)" text-anchor="middle">1,8</text>
<text transform="translate(521.5,400.8) scale(1,0.90)" text-anchor="middle">1,9</text>
<text transform="translate(547.1,400.8) scale(1,0.90)" text-anchor="middle">2,0</text>
<text transform="translate(572.7,400.8) scale(1,0.90)" text-anchor="middle">2,1</text>
<text transform="translate(598.3,400.8) scale(1,0.90)" text-anchor="middle">2,2</text>
<text transform="translate(623.9,400.8) scale(1,0.90)" text-anchor="middle">2,3</text>
<text transform="translate(649.5,400.8) scale(1,0.90)" text-anchor="middle">2,4</text>
<text transform="translate(675.1,400.8) scale(1,0.90)" text-anchor="middle">2,5</text>
<text transform="translate(700.6,400.8) scale(1,0.90)" text-anchor="middle">2,6</text>
<text transform="translate(712.5,400.9) scale(1,0.90)">Q [м³/ч]</text>
<text transform="translate(756.3,16.8) scale(1,0.90)">eta</text>
<text transform="translate(756.6,28.6) scale(1,0.90)">[%]</text>
<text transform="translate(757.5,390.8) scale(1,0.90)">0</text>
<text transform="translate(757.5,352.6) scale(1,0.90)">10</text>
<text transform="translate(757.5,314.5) scale(1,0.90)">20</text>
<text transform="translate(757.5,276.3) scale(1,0.90)">30</text>
<text transform="translate(757.5,238.1) scale(1,0.90)">40</text>
<text transform="translate(757.5,200.0) scale(1,0.90)">50</text>
<text transform="translate(757.5,161.8) scale(1,0.90)">60</text>
<text transform="translate(757.5,123.6) scale(1,0.90)">70</text>
<text transform="translate(757.5,85.5) scale(1,0.90)">80</text>
<text transform="translate(19.5,415.7) scale(1,0.90)" text-anchor="middle">P1</text>
<text transform="translate(18.3,428.3) scale(1,0.90)" text-anchor="middle">[кВт]</text>
<text transform="translate(28.2,611.9) scale(1,0.90)" text-anchor="end">0</text>
<text transform="translate(28.2,592.9) scale(1,0.90)" text-anchor="end">0,002</text>
<text transform="translate(28.2,573.8) scale(1,0.90)" text-anchor="end">0,004</text>
<text transform="translate(28.2,554.8) scale(1,0.90)" text-anchor="end">0,006</text>
<text transform="translate(28.2,535.7) scale(1,0.90)" text-anchor="end">0,008</text>
<text transform="translate(28.2,516.7) scale(1,0.90)" text-anchor="end">0,010</text>
<text transform="translate(28.2,497.6) scale(1,0.90)" text-anchor="end">0,012</text>
<text transform="translate(28.2,478.6) scale(1,0.90)" text-anchor="end">0,014</text>
<text transform="translate(28.2,459.5) scale(1,0.90)" text-anchor="end">0,016</text>
<text transform="translate(28.2,440.4) scale(1,0.90)" text-anchor="end">0,018</text>
</svg>
</body>
</html>
